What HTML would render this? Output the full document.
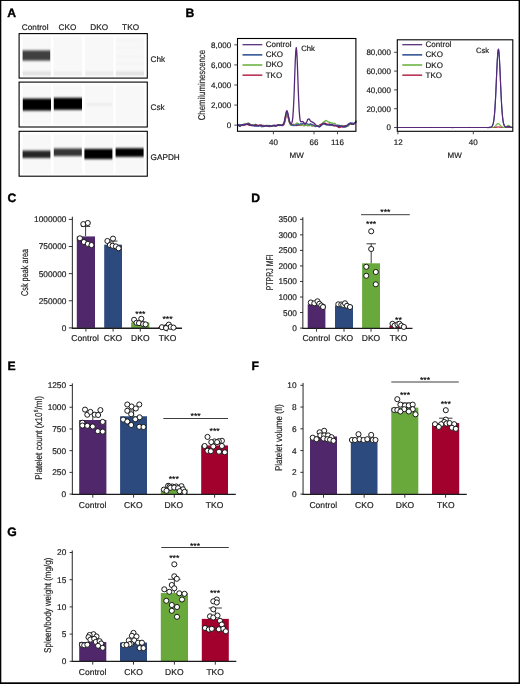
<!DOCTYPE html>
<html lang="en"><head><meta charset="utf-8"><title>Figure</title>
<style>
html,body{margin:0;padding:0;background:#fff;}
body{width:520px;height:684px;overflow:hidden;}
svg{display:block;font-family:"Liberation Sans", sans-serif;text-rendering:geometricPrecision;will-change:transform;}
</style></head><body>
<svg width="520" height="684" viewBox="0 0 520 684">
<defs>
<filter id="bv" x="-10%" y="-40%" width="120%" height="180%"><feGaussianBlur stdDeviation="0.55 1.0"/></filter>
<filter id="bl2" x="-10%" y="-10%" width="120%" height="120%"><feGaussianBlur stdDeviation="0.6 0.8"/></filter>
<filter id="bv2" x="-10%" y="-60%" width="120%" height="220%"><feGaussianBlur stdDeviation="0.5 1.3"/></filter>
</defs>
<rect x="0" y="0" width="520" height="684" fill="#fff"/>

<text x="7.20" y="17.40" font-size="12.2" text-anchor="start" font-weight="bold" fill="#000" stroke="#000" stroke-width="0.35" >A</text>
<text x="185.40" y="17.20" font-size="12.2" text-anchor="start" font-weight="bold" fill="#000" stroke="#000" stroke-width="0.35" >B</text>
<text x="7.60" y="202.10" font-size="12.2" text-anchor="start" font-weight="bold" fill="#000" stroke="#000" stroke-width="0.35" >C</text>
<text x="251.20" y="202.10" font-size="12.2" text-anchor="start" font-weight="bold" fill="#000" stroke="#000" stroke-width="0.35" >D</text>
<text x="7.40" y="369.60" font-size="12.2" text-anchor="start" font-weight="bold" fill="#000" stroke="#000" stroke-width="0.35" >E</text>
<text x="251.40" y="369.60" font-size="12.2" text-anchor="start" font-weight="bold" fill="#000" stroke="#000" stroke-width="0.35" >F</text>
<text x="7.20" y="535.60" font-size="12.2" text-anchor="start" font-weight="bold" fill="#000" stroke="#000" stroke-width="0.35" >G</text>
<rect x="19.10" y="33.60" width="128.20" height="44.50" fill="#ffffff" />
<rect x="22.50" y="36.60" width="28.50" height="39.30" fill="#f8f8f8" filter="url(#bl2)"/>
<rect x="53.50" y="36.60" width="28.50" height="39.30" fill="#f8f8f8" filter="url(#bl2)"/>
<rect x="85.00" y="36.60" width="28.60" height="39.30" fill="#f8f8f8" filter="url(#bl2)"/>
<rect x="115.60" y="36.60" width="28.60" height="39.30" fill="#f8f8f8" filter="url(#bl2)"/>
<rect x="19.10" y="82.10" width="128.20" height="44.90" fill="#ffffff" />
<rect x="22.50" y="85.10" width="28.50" height="39.70" fill="#f8f8f8" filter="url(#bl2)"/>
<rect x="53.50" y="85.10" width="28.50" height="39.70" fill="#f8f8f8" filter="url(#bl2)"/>
<rect x="85.00" y="85.10" width="28.60" height="39.70" fill="#f8f8f8" filter="url(#bl2)"/>
<rect x="115.60" y="85.10" width="28.60" height="39.70" fill="#f8f8f8" filter="url(#bl2)"/>
<rect x="19.10" y="131.30" width="128.20" height="44.90" fill="#ffffff" />
<rect x="22.50" y="134.30" width="28.50" height="39.70" fill="#f8f8f8" filter="url(#bl2)"/>
<rect x="53.50" y="134.30" width="28.50" height="39.70" fill="#f8f8f8" filter="url(#bl2)"/>
<rect x="85.00" y="134.30" width="28.60" height="39.70" fill="#f8f8f8" filter="url(#bl2)"/>
<rect x="115.60" y="134.30" width="28.60" height="39.70" fill="#f8f8f8" filter="url(#bl2)"/>
<rect x="22.80" y="71.60" width="27.90" height="3.80" fill="#dedede" filter="url(#bv2)"/>
<rect x="53.80" y="71.60" width="27.90" height="3.80" fill="#ededed" filter="url(#bv2)"/>
<rect x="85.30" y="71.60" width="28.00" height="3.80" fill="#e9e9e9" filter="url(#bv2)"/>
<rect x="115.90" y="71.60" width="28.00" height="3.80" fill="#e0e0e0" filter="url(#bv2)"/>
<rect x="116.50" y="40.50" width="27.00" height="1.60" fill="#f3f3f3" filter="url(#bv)"/>
<rect x="116.50" y="47.50" width="27.00" height="1.60" fill="#f3f3f3" filter="url(#bv)"/>
<rect x="116.50" y="56.00" width="27.00" height="1.60" fill="#f3f3f3" filter="url(#bv)"/>
<rect x="116.50" y="63.00" width="27.00" height="1.60" fill="#f3f3f3" filter="url(#bv)"/>
<rect x="22.60" y="50.40" width="27.60" height="10.20" fill="#3f3f3f" filter="url(#bv)"/>
<rect x="22.80" y="98.60" width="28.20" height="12.00" fill="#000" filter="url(#bv2)"/>
<rect x="53.80" y="97.80" width="28.20" height="12.00" fill="#000" filter="url(#bv2)"/>
<rect x="87.00" y="103.20" width="25.00" height="2.60" fill="#ebebeb" filter="url(#bv)"/>
<rect x="22.60" y="150.60" width="27.80" height="7.40" fill="#262626" filter="url(#bv2)"/>
<rect x="53.80" y="148.50" width="28.00" height="7.60" fill="#363636" filter="url(#bv2)"/>
<rect x="84.40" y="148.90" width="28.00" height="10.20" fill="#000" filter="url(#bv2)"/>
<rect x="115.60" y="148.20" width="28.00" height="8.60" fill="#050505" filter="url(#bv2)"/>
<rect x="19.1" y="33.6" width="128.20" height="44.50" fill="none" stroke="#000" stroke-width="1.1"/>
<rect x="19.1" y="82.1" width="128.20" height="44.90" fill="none" stroke="#000" stroke-width="1.1"/>
<rect x="19.1" y="131.3" width="128.20" height="44.90" fill="none" stroke="#000" stroke-width="1.1"/>
<text x="35.20" y="30.20" font-size="8.2" text-anchor="middle" font-weight="normal" fill="#1a1a1a" stroke="#1a1a1a" stroke-width="0.18" letter-spacing="0.08">Control</text>
<text x="67.40" y="30.20" font-size="8.2" text-anchor="middle" font-weight="normal" fill="#1a1a1a" stroke="#1a1a1a" stroke-width="0.18" letter-spacing="0.08">CKO</text>
<text x="99.20" y="30.20" font-size="8.2" text-anchor="middle" font-weight="normal" fill="#1a1a1a" stroke="#1a1a1a" stroke-width="0.18" letter-spacing="0.08">DKO</text>
<text x="130.60" y="30.20" font-size="8.2" text-anchor="middle" font-weight="normal" fill="#1a1a1a" stroke="#1a1a1a" stroke-width="0.18" letter-spacing="0.08">TKO</text>
<text x="150.60" y="62.40" font-size="8.2" text-anchor="start" font-weight="normal" fill="#1a1a1a" stroke="#1a1a1a" stroke-width="0.18" >Chk</text>
<text x="150.60" y="110.40" font-size="8.2" text-anchor="start" font-weight="normal" fill="#1a1a1a" stroke="#1a1a1a" stroke-width="0.18" >Csk</text>
<text x="150.60" y="159.60" font-size="8.2" text-anchor="start" font-weight="normal" fill="#1a1a1a" stroke="#1a1a1a" stroke-width="0.18" >GAPDH</text>
<clipPath id="cb1"><rect x="237.5" y="38.5" width="119.59999999999998" height="92.80000000000001"/></clipPath><g clip-path="url(#cb1)">
<path d="M238.10,124.86 L238.59,124.76 L239.09,125.03 L239.58,125.33 L240.07,125.21 L240.56,125.01 L241.06,125.36 L241.55,125.27 L242.04,125.56 L242.54,125.42 L243.03,125.45 L243.52,125.43 L244.01,124.85 L244.51,124.08 L245.00,124.00 L245.49,123.82 L245.99,123.50 L246.48,123.96 L246.97,124.12 L247.46,124.49 L247.96,124.84 L248.45,124.94 L248.94,125.15 L249.44,125.46 L249.93,125.43 L250.42,125.18 L250.92,125.15 L251.41,124.83 L251.90,124.89 L252.39,124.78 L252.89,125.09 L253.38,125.29 L253.87,125.06 L254.37,124.72 L254.86,124.62 L255.35,124.46 L255.84,124.45 L256.34,125.02 L256.83,125.55 L257.32,126.12 L257.82,126.10 L258.31,126.06 L258.80,125.64 L259.29,125.60 L259.79,124.98 L260.28,124.95 L260.77,125.25 L261.27,125.73 L261.76,125.37 L262.25,125.73 L262.74,125.65 L263.24,125.38 L263.73,125.49 L264.22,125.70 L264.72,125.49 L265.21,126.00 L265.70,126.22 L266.19,126.04 L266.69,125.80 L267.18,125.81 L267.67,125.91 L268.17,125.79 L268.66,125.94 L269.15,126.57 L269.64,126.53 L270.14,126.47 L270.63,126.23 L271.12,125.97 L271.62,125.85 L272.11,125.88 L272.60,125.89 L273.09,125.81 L273.59,126.02 L274.08,125.84 L274.57,126.18 L275.07,126.06 L275.56,125.81 L276.05,125.30 L276.55,125.36 L277.04,124.86 L277.53,124.88 L278.02,125.28 L278.52,125.22 L279.01,124.96 L279.50,125.51 L280.00,124.94 L280.49,125.05 L280.98,125.46 L281.47,125.34 L281.97,125.12 L282.46,125.51 L282.95,125.37 L283.45,125.04 L283.94,124.38 L284.43,123.23 L284.92,121.38 L285.42,119.26 L285.91,117.17 L286.40,115.55 L286.90,114.87 L287.39,115.37 L287.88,116.35 L288.37,118.37 L288.87,120.84 L289.36,122.18 L289.85,123.22 L290.35,124.44 L290.84,124.89 L291.33,124.70 L291.82,124.78 L292.32,125.26 L292.81,124.78 L293.30,124.29 L293.80,124.39 L294.29,124.76 L294.78,124.82 L295.27,125.47 L295.77,125.41 L296.26,125.67 L296.75,125.47 L297.25,125.36 L297.74,124.79 L298.23,125.04 L298.73,124.98 L299.22,125.32 L299.71,124.92 L300.20,125.36 L300.70,125.49 L301.19,125.12 L301.68,124.43 L302.18,124.28 L302.67,123.92 L303.16,123.26 L303.65,123.40 L304.15,123.98 L304.64,124.30 L305.13,124.33 L305.63,125.14 L306.12,125.38 L306.61,125.35 L307.10,125.32 L307.60,125.70 L308.09,125.60 L308.58,125.17 L309.08,124.78 L309.57,124.75 L310.06,124.37 L310.55,124.22 L311.05,124.77 L311.54,125.45 L312.03,125.93 L312.53,125.80 L313.02,125.75 L313.51,125.22 L314.00,125.31 L314.50,124.96 L314.99,125.38 L315.48,125.49 L315.98,126.09 L316.47,125.52 L316.96,126.04 L317.45,126.08 L317.95,126.12 L318.44,125.69 L318.93,125.79 L319.43,125.19 L319.92,124.80 L320.41,124.41 L320.91,124.50 L321.40,124.21 L321.89,123.76 L322.38,123.42 L322.88,123.53 L323.37,123.04 L323.86,122.81 L324.36,123.01 L324.85,123.23 L325.34,123.35 L325.83,123.64 L326.33,123.99 L326.82,124.52 L327.31,124.68 L327.81,124.39 L328.30,124.31 L328.79,124.33 L329.28,124.19 L329.78,124.19 L330.27,124.53 L330.76,124.88 L331.26,124.83 L331.75,125.07 L332.24,125.09 L332.73,125.52 L333.23,125.45 L333.72,125.76 L334.21,125.72 L334.71,125.84 L335.20,125.61 L335.69,125.71 L336.18,125.53 L336.68,125.65 L337.17,126.29 L337.66,126.59 L338.16,126.70 L338.65,127.35 L339.14,127.55 L339.63,127.02 L340.13,126.86 L340.62,127.09 L341.11,126.63 L341.61,126.52 L342.10,126.68 L342.59,126.96 L343.08,126.91 L343.58,126.90 L344.07,126.39 L344.56,126.14 L345.06,125.90 L345.55,125.67 L346.04,125.87 L346.54,126.26 L347.03,126.33 L347.52,125.76 L348.01,125.27 L348.51,124.66 L349.00,123.72 L349.49,123.53 L349.99,123.70 L350.48,123.76 L350.97,123.94 L351.46,124.45 L351.96,124.43 L352.45,124.24 L352.94,124.34 L353.44,124.36 L353.93,123.82 L354.42,123.11 L354.91,122.72 L355.41,122.34 L355.90,121.85" fill="none" stroke="#ad0c35" stroke-width="1.3" stroke-linejoin="round" stroke-linecap="round"/>
<path d="M238.10,125.27 L238.59,125.77 L239.09,125.46 L239.58,125.27 L240.07,125.34 L240.56,125.31 L241.06,124.81 L241.55,125.00 L242.04,124.84 L242.54,124.80 L243.03,124.49 L243.52,124.45 L244.01,124.12 L244.51,124.31 L245.00,124.15 L245.49,123.97 L245.99,124.10 L246.48,124.19 L246.97,123.55 L247.46,123.67 L247.96,123.52 L248.45,123.39 L248.94,123.16 L249.44,123.58 L249.93,123.76 L250.42,124.17 L250.92,124.65 L251.41,124.77 L251.90,125.00 L252.39,125.00 L252.89,124.83 L253.38,124.62 L253.87,125.13 L254.37,124.85 L254.86,124.93 L255.35,125.42 L255.84,125.80 L256.34,125.59 L256.83,126.08 L257.32,125.95 L257.82,125.78 L258.31,125.52 L258.80,125.62 L259.29,125.26 L259.79,125.29 L260.28,125.43 L260.77,125.54 L261.27,125.45 L261.76,125.69 L262.25,125.90 L262.74,125.77 L263.24,125.75 L263.73,125.70 L264.22,125.57 L264.72,125.88 L265.21,125.62 L265.70,125.67 L266.19,125.81 L266.69,125.89 L267.18,125.38 L267.67,125.40 L268.17,125.29 L268.66,125.30 L269.15,125.47 L269.64,125.48 L270.14,125.93 L270.63,125.89 L271.12,125.91 L271.62,125.75 L272.11,126.05 L272.60,126.01 L273.09,126.30 L273.59,126.16 L274.08,125.86 L274.57,125.67 L275.07,125.64 L275.56,125.22 L276.05,125.49 L276.55,125.70 L277.04,125.57 L277.53,125.12 L278.02,125.24 L278.52,124.75 L279.01,124.68 L279.50,124.84 L280.00,125.03 L280.49,124.70 L280.98,124.74 L281.47,124.73 L281.97,124.55 L282.46,124.38 L282.95,124.50 L283.45,123.95 L283.94,122.84 L284.43,121.52 L284.92,119.46 L285.42,117.47 L285.91,115.53 L286.40,114.08 L286.90,113.66 L287.39,114.68 L287.88,115.81 L288.37,117.95 L288.87,120.36 L289.36,122.42 L289.85,123.33 L290.35,124.43 L290.84,125.13 L291.33,125.41 L291.82,125.37 L292.32,125.43 L292.81,125.46 L293.30,125.25 L293.80,125.14 L294.29,124.80 L294.78,124.93 L295.27,124.57 L295.77,124.04 L296.26,123.35 L296.75,123.03 L297.25,123.13 L297.74,123.22 L298.23,123.34 L298.73,124.12 L299.22,124.77 L299.71,124.76 L300.20,124.97 L300.70,125.21 L301.19,124.92 L301.68,124.85 L302.18,125.05 L302.67,125.17 L303.16,125.48 L303.65,125.88 L304.15,125.76 L304.64,125.82 L305.13,125.42 L305.63,125.20 L306.12,125.20 L306.61,125.30 L307.10,125.03 L307.60,125.54 L308.09,125.64 L308.58,125.65 L309.08,125.49 L309.57,125.85 L310.06,125.50 L310.55,125.21 L311.05,124.72 L311.54,125.05 L312.03,124.75 L312.53,125.08 L313.02,125.50 L313.51,125.55 L314.00,125.27 L314.50,125.68 L314.99,125.65 L315.48,125.60 L315.98,126.15 L316.47,126.30 L316.96,125.88 L317.45,125.87 L317.95,126.07 L318.44,125.64 L318.93,125.73 L319.43,125.98 L319.92,125.91 L320.41,125.73 L320.91,125.37 L321.40,124.96 L321.89,124.21 L322.38,123.43 L322.88,122.46 L323.37,122.38 L323.86,121.98 L324.36,121.44 L324.85,121.09 L325.34,121.10 L325.83,120.56 L326.33,120.51 L326.82,120.87 L327.31,121.35 L327.81,121.51 L328.30,122.03 L328.79,122.19 L329.28,122.10 L329.78,122.44 L330.27,122.71 L330.76,122.66 L331.26,122.84 L331.75,123.26 L332.24,122.96 L332.73,123.32 L333.23,123.29 L333.72,123.29 L334.21,123.23 L334.71,123.37 L335.20,123.56 L335.69,124.37 L336.18,124.97 L336.68,125.44 L337.17,125.63 L337.66,125.37 L338.16,125.35 L338.65,125.25 L339.14,125.24 L339.63,125.71 L340.13,125.78 L340.62,125.54 L341.11,125.55 L341.61,125.52 L342.10,125.29 L342.59,125.51 L343.08,125.91 L343.58,126.18 L344.07,126.56 L344.56,126.98 L345.06,126.76 L345.55,126.70 L346.04,126.75 L346.54,126.57 L347.03,126.36 L347.52,126.42 L348.01,126.11 L348.51,125.70 L349.00,125.25 L349.49,124.72 L349.99,124.47 L350.48,123.95 L350.97,123.75 L351.46,123.69 L351.96,123.48 L352.45,123.23 L352.94,123.57 L353.44,123.68 L353.93,123.16 L354.42,122.83 L354.91,122.46 L355.41,121.62 L355.90,120.55" fill="none" stroke="#6db444" stroke-width="1.3" stroke-linejoin="round" stroke-linecap="round"/>
<path d="M238.10,124.87 L238.59,124.68 L239.09,124.50 L239.58,124.90 L240.07,124.66 L240.56,124.69 L241.06,124.92 L241.55,124.89 L242.04,124.67 L242.54,124.78 L243.03,124.54 L243.52,124.40 L244.01,124.71 L244.51,124.70 L245.00,124.48 L245.49,124.80 L245.99,124.57 L246.48,124.08 L246.97,123.86 L247.46,123.58 L247.96,123.09 L248.45,123.28 L248.94,123.54 L249.44,123.99 L249.93,124.72 L250.42,124.91 L250.92,125.24 L251.41,125.65 L251.90,125.24 L252.39,124.87 L252.89,125.43 L253.38,125.44 L253.87,125.44 L254.37,125.85 L254.86,126.33 L255.35,126.10 L255.84,126.13 L256.34,126.06 L256.83,126.13 L257.32,126.09 L257.82,126.42 L258.31,126.09 L258.80,125.89 L259.29,125.68 L259.79,125.70 L260.28,125.65 L260.77,126.13 L261.27,126.42 L261.76,126.75 L262.25,126.67 L262.74,126.65 L263.24,126.62 L263.73,126.42 L264.22,126.18 L264.72,126.07 L265.21,125.97 L265.70,125.76 L266.19,125.68 L266.69,125.77 L267.18,126.02 L267.67,125.94 L268.17,126.03 L268.66,126.02 L269.15,126.13 L269.64,125.62 L270.14,125.89 L270.63,125.77 L271.12,125.96 L271.62,125.81 L272.11,125.78 L272.60,125.34 L273.09,125.55 L273.59,125.49 L274.08,125.29 L274.57,125.79 L275.07,126.15 L275.56,125.86 L276.05,125.69 L276.55,125.76 L277.04,125.50 L277.53,125.23 L278.02,125.42 L278.52,125.31 L279.01,124.98 L279.50,124.93 L280.00,125.22 L280.49,125.12 L280.98,125.14 L281.47,125.51 L281.97,125.68 L282.46,125.44 L282.95,124.95 L283.45,124.50 L283.94,123.54 L284.43,121.71 L284.92,119.31 L285.42,116.77 L285.91,114.34 L286.40,112.56 L286.90,111.81 L287.39,112.32 L287.88,114.05 L288.37,116.38 L288.87,118.66 L289.36,120.89 L289.85,122.45 L290.35,123.59 L290.84,124.17 L291.33,124.67 L291.82,125.06 L292.32,125.47 L292.81,125.52 L293.30,125.62 L293.80,125.64 L294.29,125.58 L294.78,125.15 L295.27,125.47 L295.77,125.25 L296.26,124.89 L296.75,124.64 L297.25,124.60 L297.74,124.19 L298.23,124.71 L298.73,124.52 L299.22,124.48 L299.71,124.35 L300.20,124.03 L300.70,123.67 L301.19,123.93 L301.68,123.89 L302.18,123.74 L302.67,123.62 L303.16,123.54 L303.65,123.60 L304.15,123.58 L304.64,123.83 L305.13,124.15 L305.63,124.02 L306.12,123.71 L306.61,123.61 L307.10,123.65 L307.60,124.07 L308.09,124.50 L308.58,124.40 L309.08,124.28 L309.57,124.39 L310.06,124.15 L310.55,123.83 L311.05,124.13 L311.54,124.27 L312.03,124.34 L312.53,124.51 L313.02,124.93 L313.51,125.29 L314.00,125.79 L314.50,126.26 L314.99,126.36 L315.48,126.55 L315.98,126.37 L316.47,126.28 L316.96,126.19 L317.45,126.15 L317.95,126.13 L318.44,126.60 L318.93,126.80 L319.43,126.73 L319.92,126.68 L320.41,126.41 L320.91,125.93 L321.40,125.14 L321.89,125.03 L322.38,124.69 L322.88,124.37 L323.37,124.21 L323.86,124.17 L324.36,124.01 L324.85,124.30 L325.34,124.54 L325.83,124.25 L326.33,124.65 L326.82,124.89 L327.31,124.48 L327.81,124.34 L328.30,124.48 L328.79,124.59 L329.28,124.25 L329.78,124.88 L330.27,125.18 L330.76,125.31 L331.26,125.22 L331.75,125.26 L332.24,125.06 L332.73,124.69 L333.23,125.15 L333.72,125.12 L334.21,125.52 L334.71,125.67 L335.20,125.71 L335.69,125.55 L336.18,125.49 L336.68,125.50 L337.17,125.24 L337.66,125.30 L338.16,125.26 L338.65,125.70 L339.14,125.55 L339.63,125.50 L340.13,125.65 L340.62,125.84 L341.11,125.81 L341.61,126.22 L342.10,126.38 L342.59,126.82 L343.08,126.97 L343.58,127.18 L344.07,127.10 L344.56,127.24 L345.06,126.89 L345.55,126.69 L346.04,126.15 L346.54,125.42 L347.03,125.21 L347.52,125.04 L348.01,124.49 L348.51,123.93 L349.00,123.63 L349.49,123.21 L349.99,123.15 L350.48,122.90 L350.97,122.87 L351.46,122.96 L351.96,123.13 L352.45,123.11 L352.94,123.43 L353.44,123.62 L353.93,123.47 L354.42,123.19 L354.91,122.59 L355.41,122.09 L355.90,121.55" fill="none" stroke="#3f5f9c" stroke-width="1.3" stroke-linejoin="round" stroke-linecap="round"/>
<path d="M238.10,125.31 L238.59,125.53 L239.09,125.77 L239.58,126.25 L240.07,126.26 L240.56,126.10 L241.06,125.55 L241.55,125.23 L242.04,125.01 L242.54,124.85 L243.03,124.72 L243.52,125.03 L244.01,125.28 L244.51,124.88 L245.00,124.57 L245.49,124.66 L245.99,124.56 L246.48,124.33 L246.97,124.11 L247.46,124.34 L247.96,124.10 L248.45,123.75 L248.94,124.01 L249.44,124.59 L249.93,124.63 L250.42,124.68 L250.92,125.28 L251.41,125.28 L251.90,125.43 L252.39,125.73 L252.89,125.90 L253.38,125.57 L253.87,125.49 L254.37,125.63 L254.86,125.28 L255.35,125.26 L255.84,125.38 L256.34,125.46 L256.83,125.03 L257.32,125.10 L257.82,125.21 L258.31,125.29 L258.80,125.37 L259.29,125.60 L259.79,125.53 L260.28,125.50 L260.77,125.63 L261.27,125.32 L261.76,125.12 L262.25,125.56 L262.74,125.87 L263.24,125.95 L263.73,126.42 L264.22,126.47 L264.72,126.14 L265.21,125.93 L265.70,125.50 L266.19,125.31 L266.69,125.61 L267.18,125.91 L267.67,126.02 L268.17,126.10 L268.66,125.95 L269.15,126.01 L269.64,125.82 L270.14,125.97 L270.63,126.07 L271.12,126.32 L271.62,126.24 L272.11,126.10 L272.60,125.63 L273.09,125.61 L273.59,125.49 L274.08,125.21 L274.57,125.40 L275.07,125.84 L275.56,126.01 L276.05,125.77 L276.55,125.76 L277.04,125.78 L277.53,125.29 L278.02,124.96 L278.52,125.18 L279.01,124.97 L279.50,124.92 L280.00,125.34 L280.49,125.50 L280.98,125.15 L281.47,125.31 L281.97,125.06 L282.46,124.63 L282.95,124.37 L283.45,123.97 L283.94,122.88 L284.43,121.09 L284.92,118.50 L285.42,115.97 L285.91,113.48 L286.40,111.35 L286.90,110.61 L287.39,111.75 L287.88,113.34 L288.37,115.62 L288.87,118.28 L289.36,120.94 L289.85,122.24 L290.35,123.20 L290.84,123.95 L291.33,124.11 L291.82,122.87 L292.32,121.23 L292.81,117.37 L293.30,110.67 L293.80,101.20 L294.29,88.80 L294.78,74.34 L295.27,61.12 L295.77,51.17 L296.26,47.61 L296.75,51.39 L297.25,61.24 L297.74,74.64 L298.23,89.28 L298.73,101.74 L299.22,110.99 L299.71,116.93 L300.20,120.55 L300.70,121.69 L301.19,121.73 L301.68,121.56 L302.18,121.55 L302.67,121.50 L303.16,121.84 L303.65,122.45 L304.15,122.92 L304.64,123.42 L305.13,123.52 L305.63,123.33 L306.12,122.64 L306.61,122.05 L307.10,121.00 L307.60,119.73 L308.09,119.15 L308.58,119.05 L309.08,118.95 L309.57,119.53 L310.06,120.41 L310.55,121.02 L311.05,121.45 L311.54,121.70 L312.03,121.92 L312.53,122.26 L313.02,122.32 L313.51,122.67 L314.00,123.14 L314.50,123.45 L314.99,123.88 L315.48,124.57 L315.98,125.19 L316.47,125.56 L316.96,125.77 L317.45,126.13 L317.95,126.12 L318.44,126.25 L318.93,126.54 L319.43,126.82 L319.92,126.30 L320.41,126.00 L320.91,125.24 L321.40,124.84 L321.89,124.33 L322.38,123.83 L322.88,123.58 L323.37,123.45 L323.86,123.30 L324.36,123.36 L324.85,123.84 L325.34,124.29 L325.83,124.67 L326.33,124.53 L326.82,124.49 L327.31,124.64 L327.81,124.84 L328.30,124.95 L328.79,125.00 L329.28,125.19 L329.78,124.90 L330.27,124.66 L330.76,124.45 L331.26,124.70 L331.75,124.77 L332.24,124.98 L332.73,124.93 L333.23,125.29 L333.72,125.49 L334.21,125.27 L334.71,125.29 L335.20,125.43 L335.69,125.54 L336.18,125.68 L336.68,126.09 L337.17,126.19 L337.66,126.61 L338.16,126.64 L338.65,126.22 L339.14,126.18 L339.63,126.51 L340.13,126.16 L340.62,126.22 L341.11,126.72 L341.61,126.67 L342.10,126.35 L342.59,126.65 L343.08,126.44 L343.58,126.05 L344.07,126.21 L344.56,126.27 L345.06,126.40 L345.55,126.39 L346.04,126.61 L346.54,126.30 L347.03,125.97 L347.52,125.55 L348.01,125.23 L348.51,124.54 L349.00,124.46 L349.49,124.09 L349.99,123.71 L350.48,123.33 L350.97,123.69 L351.46,123.55 L351.96,123.99 L352.45,124.25 L352.94,124.41 L353.44,124.21 L353.93,124.12 L354.42,123.37 L354.91,122.97 L355.41,122.79 L355.90,121.95" fill="none" stroke="#562878" stroke-width="1.3" stroke-linejoin="round" stroke-linecap="round"/>
</g>
<rect x="237.5" y="38.5" width="118.40" height="92.80" fill="none" stroke="#000" stroke-width="1.1"/>
<line x1="234.30" y1="44.83" x2="237.50" y2="44.83" stroke="#333" stroke-width="0.9" />
<text x="231.10" y="47.68" font-size="8" text-anchor="end" font-weight="normal" fill="#1a1a1a" stroke="#1a1a1a" stroke-width="0.18" >8,000</text>
<line x1="234.30" y1="64.91" x2="237.50" y2="64.91" stroke="#333" stroke-width="0.9" />
<text x="231.10" y="67.76" font-size="8" text-anchor="end" font-weight="normal" fill="#1a1a1a" stroke="#1a1a1a" stroke-width="0.18" >6,000</text>
<line x1="234.30" y1="84.99" x2="237.50" y2="84.99" stroke="#333" stroke-width="0.9" />
<text x="231.10" y="87.84" font-size="8" text-anchor="end" font-weight="normal" fill="#1a1a1a" stroke="#1a1a1a" stroke-width="0.18" >4,000</text>
<line x1="234.30" y1="105.07" x2="237.50" y2="105.07" stroke="#333" stroke-width="0.9" />
<text x="231.10" y="107.92" font-size="8" text-anchor="end" font-weight="normal" fill="#1a1a1a" stroke="#1a1a1a" stroke-width="0.18" >2,000</text>
<line x1="234.30" y1="125.15" x2="237.50" y2="125.15" stroke="#333" stroke-width="0.9" />
<text x="231.10" y="128.00" font-size="8" text-anchor="end" font-weight="normal" fill="#1a1a1a" stroke="#1a1a1a" stroke-width="0.18" >0</text>
<line x1="273.40" y1="131.30" x2="273.40" y2="134.30" stroke="#333" stroke-width="0.9" />
<text x="273.40" y="145.10" font-size="8" text-anchor="middle" font-weight="normal" fill="#1a1a1a" stroke="#1a1a1a" stroke-width="0.18" >40</text>
<line x1="314.00" y1="131.30" x2="314.00" y2="134.30" stroke="#333" stroke-width="0.9" />
<text x="314.00" y="145.10" font-size="8" text-anchor="middle" font-weight="normal" fill="#1a1a1a" stroke="#1a1a1a" stroke-width="0.18" >66</text>
<line x1="337.50" y1="131.30" x2="337.50" y2="134.30" stroke="#333" stroke-width="0.9" />
<text x="337.50" y="145.10" font-size="8" text-anchor="middle" font-weight="normal" fill="#1a1a1a" stroke="#1a1a1a" stroke-width="0.18" >116</text>
<text x="296.60" y="158.00" font-size="8" text-anchor="middle" font-weight="normal" fill="#1a1a1a" stroke="#1a1a1a" stroke-width="0.18" >MW</text>
<text transform="translate(205.20,85.10) rotate(-90)" x="0" y="0" font-size="9.8" text-anchor="middle" fill="#1a1a1a" stroke="#1a1a1a" stroke-width="0.15" textLength="70.4" lengthAdjust="spacingAndGlyphs" style="font-variant-ligatures:none">Chemiluminescence</text>
<line x1="242.50" y1="44.70" x2="262.30" y2="44.70" stroke="#562878" stroke-width="1.25" />
<text x="265.70" y="47.05" font-size="8.0" text-anchor="start" font-weight="normal" fill="#1a1a1a" stroke="#1a1a1a" stroke-width="0.18" >Control</text>
<line x1="242.50" y1="54.85" x2="262.30" y2="54.85" stroke="#3f5f9c" stroke-width="1.7" />
<text x="265.70" y="57.20" font-size="8.0" text-anchor="start" font-weight="normal" fill="#1a1a1a" stroke="#1a1a1a" stroke-width="0.18" >CKO</text>
<line x1="242.50" y1="65.00" x2="262.30" y2="65.00" stroke="#6db444" stroke-width="1.6" />
<text x="265.70" y="67.35" font-size="8.0" text-anchor="start" font-weight="normal" fill="#1a1a1a" stroke="#1a1a1a" stroke-width="0.18" >DKO</text>
<line x1="242.50" y1="75.15" x2="262.30" y2="75.15" stroke="#ad0c35" stroke-width="1.35" />
<text x="265.70" y="77.50" font-size="8.0" text-anchor="start" font-weight="normal" fill="#1a1a1a" stroke="#1a1a1a" stroke-width="0.18" >TKO</text>
<text x="301.30" y="51.20" font-size="7.7" text-anchor="start" font-weight="normal" fill="#1a1a1a" stroke="#1a1a1a" stroke-width="0.18" >Chk</text>
<clipPath id="cb2"><rect x="397.3" y="39.8" width="115.49999999999994" height="91.50000000000001"/></clipPath><g clip-path="url(#cb2)">
<path d="M397.90,127.47 L398.34,127.47 L398.78,127.46 L399.22,127.48 L399.67,127.49 L400.11,127.50 L400.55,127.50 L400.99,127.49 L401.43,127.50 L401.87,127.52 L402.31,127.52 L402.75,127.52 L403.20,127.51 L403.64,127.52 L404.08,127.50 L404.52,127.51 L404.96,127.51 L405.40,127.51 L405.84,127.51 L406.28,127.50 L406.73,127.52 L407.17,127.53 L407.61,127.51 L408.05,127.51 L408.49,127.51 L408.93,127.50 L409.37,127.49 L409.82,127.48 L410.26,127.49 L410.70,127.48 L411.14,127.47 L411.58,127.47 L412.02,127.47 L412.46,127.47 L412.90,127.48 L413.35,127.49 L413.79,127.50 L414.23,127.50 L414.67,127.51 L415.11,127.51 L415.55,127.53 L415.99,127.54 L416.44,127.54 L416.88,127.54 L417.32,127.52 L417.76,127.52 L418.20,127.51 L418.64,127.51 L419.08,127.51 L419.52,127.51 L419.97,127.50 L420.41,127.51 L420.85,127.50 L421.29,127.50 L421.73,127.51 L422.17,127.50 L422.61,127.50 L423.05,127.50 L423.50,127.50 L423.94,127.52 L424.38,127.52 L424.82,127.51 L425.26,127.53 L425.70,127.51 L426.14,127.51 L426.59,127.50 L427.03,127.50 L427.47,127.50 L427.91,127.49 L428.35,127.47 L428.79,127.49 L429.23,127.48 L429.67,127.48 L430.12,127.48 L430.56,127.50 L431.00,127.49 L431.44,127.49 L431.88,127.50 L432.32,127.50 L432.76,127.48 L433.21,127.49 L433.65,127.49 L434.09,127.49 L434.53,127.49 L434.97,127.50 L435.41,127.50 L435.85,127.51 L436.29,127.51 L436.74,127.52 L437.18,127.51 L437.62,127.52 L438.06,127.53 L438.50,127.52 L438.94,127.51 L439.38,127.51 L439.82,127.51 L440.27,127.50 L440.71,127.49 L441.15,127.50 L441.59,127.50 L442.03,127.50 L442.47,127.50 L442.91,127.51 L443.36,127.51 L443.80,127.50 L444.24,127.51 L444.68,127.51 L445.12,127.50 L445.56,127.49 L446.00,127.48 L446.44,127.50 L446.89,127.49 L447.33,127.49 L447.77,127.49 L448.21,127.49 L448.65,127.50 L449.09,127.50 L449.53,127.49 L449.97,127.49 L450.42,127.48 L450.86,127.48 L451.30,127.47 L451.74,127.48 L452.18,127.48 L452.62,127.48 L453.06,127.49 L453.51,127.50 L453.95,127.50 L454.39,127.49 L454.83,127.49 L455.27,127.49 L455.71,127.50 L456.15,127.50 L456.59,127.50 L457.04,127.49 L457.48,127.48 L457.92,127.49 L458.36,127.50 L458.80,127.49 L459.24,127.49 L459.68,127.48 L460.13,127.47 L460.57,127.47 L461.01,127.47 L461.45,127.48 L461.89,127.48 L462.33,127.48 L462.77,127.48 L463.21,127.49 L463.66,127.48 L464.10,127.49 L464.54,127.48 L464.98,127.50 L465.42,127.49 L465.86,127.50 L466.30,127.50 L466.74,127.50 L467.19,127.49 L467.63,127.50 L468.07,127.49 L468.51,127.50 L468.95,127.49 L469.39,127.48 L469.83,127.47 L470.28,127.48 L470.72,127.47 L471.16,127.47 L471.60,127.47 L472.04,127.46 L472.48,127.45 L472.92,127.46 L473.36,127.46 L473.81,127.47 L474.25,127.46 L474.69,127.46 L475.13,127.47 L475.57,127.47 L476.01,127.47 L476.45,127.48 L476.89,127.48 L477.34,127.48 L477.78,127.47 L478.22,127.48 L478.66,127.49 L479.10,127.48 L479.54,127.48 L479.98,127.48 L480.43,127.48 L480.87,127.49 L481.31,127.50 L481.75,127.50 L482.19,127.50 L482.63,127.50 L483.07,127.50 L483.51,127.51 L483.96,127.52 L484.40,127.52 L484.84,127.52 L485.28,127.52 L485.72,127.53 L486.16,127.53 L486.60,127.53 L487.05,127.54 L487.49,127.56 L487.93,127.55 L488.37,127.55 L488.81,127.54 L489.25,127.53 L489.69,127.53 L490.13,127.52 L490.58,127.52 L491.02,127.51 L491.46,127.51 L491.90,127.50 L492.34,127.50 L492.78,127.49 L493.22,127.47 L493.66,127.46 L494.11,127.43 L494.55,127.39 L494.99,127.35 L495.43,127.30 L495.87,127.24 L496.31,127.17 L496.75,127.12 L497.20,127.07 L497.64,127.03 L498.08,127.02 L498.52,127.01 L498.96,127.04 L499.40,127.07 L499.84,127.12 L500.28,127.17 L500.73,127.22 L501.17,127.27 L501.61,127.33 L502.05,127.37 L502.49,127.41 L502.93,127.43 L503.37,127.45 L503.82,127.46 L504.26,127.48 L504.70,127.48 L505.14,127.47 L505.58,127.44 L506.02,127.42 L506.46,127.37 L506.90,127.32 L507.35,127.27 L507.79,127.24 L508.23,127.21 L508.67,127.20 L509.11,127.23 L509.55,127.27 L509.99,127.31 L510.43,127.35 L510.88,127.39 L511.32,127.43 L511.76,127.44 L512.20,127.46" fill="none" stroke="#ad0c35" stroke-width="1.15" stroke-linejoin="round" stroke-linecap="round"/>
<path d="M397.90,127.50 L398.34,127.50 L398.78,127.51 L399.22,127.50 L399.67,127.49 L400.11,127.48 L400.55,127.48 L400.99,127.48 L401.43,127.49 L401.87,127.49 L402.31,127.49 L402.75,127.49 L403.20,127.49 L403.64,127.49 L404.08,127.48 L404.52,127.48 L404.96,127.50 L405.40,127.48 L405.84,127.48 L406.28,127.49 L406.73,127.49 L407.17,127.51 L407.61,127.51 L408.05,127.52 L408.49,127.50 L408.93,127.49 L409.37,127.51 L409.82,127.51 L410.26,127.51 L410.70,127.49 L411.14,127.47 L411.58,127.48 L412.02,127.47 L412.46,127.47 L412.90,127.47 L413.35,127.45 L413.79,127.47 L414.23,127.47 L414.67,127.47 L415.11,127.49 L415.55,127.49 L415.99,127.50 L416.44,127.50 L416.88,127.50 L417.32,127.53 L417.76,127.51 L418.20,127.51 L418.64,127.52 L419.08,127.52 L419.52,127.53 L419.97,127.52 L420.41,127.52 L420.85,127.52 L421.29,127.52 L421.73,127.52 L422.17,127.53 L422.61,127.52 L423.05,127.51 L423.50,127.50 L423.94,127.50 L424.38,127.51 L424.82,127.52 L425.26,127.52 L425.70,127.51 L426.14,127.51 L426.59,127.51 L427.03,127.51 L427.47,127.52 L427.91,127.50 L428.35,127.50 L428.79,127.49 L429.23,127.47 L429.67,127.48 L430.12,127.46 L430.56,127.46 L431.00,127.45 L431.44,127.44 L431.88,127.46 L432.32,127.45 L432.76,127.46 L433.21,127.47 L433.65,127.48 L434.09,127.49 L434.53,127.49 L434.97,127.50 L435.41,127.50 L435.85,127.51 L436.29,127.52 L436.74,127.54 L437.18,127.53 L437.62,127.52 L438.06,127.54 L438.50,127.53 L438.94,127.52 L439.38,127.53 L439.82,127.53 L440.27,127.51 L440.71,127.49 L441.15,127.50 L441.59,127.50 L442.03,127.49 L442.47,127.50 L442.91,127.52 L443.36,127.51 L443.80,127.50 L444.24,127.52 L444.68,127.52 L445.12,127.50 L445.56,127.49 L446.00,127.49 L446.44,127.48 L446.89,127.48 L447.33,127.48 L447.77,127.49 L448.21,127.47 L448.65,127.47 L449.09,127.48 L449.53,127.51 L449.97,127.51 L450.42,127.52 L450.86,127.53 L451.30,127.52 L451.74,127.53 L452.18,127.53 L452.62,127.54 L453.06,127.53 L453.51,127.51 L453.95,127.51 L454.39,127.51 L454.83,127.49 L455.27,127.49 L455.71,127.48 L456.15,127.48 L456.59,127.47 L457.04,127.48 L457.48,127.49 L457.92,127.49 L458.36,127.49 L458.80,127.51 L459.24,127.51 L459.68,127.50 L460.13,127.52 L460.57,127.52 L461.01,127.53 L461.45,127.54 L461.89,127.53 L462.33,127.53 L462.77,127.51 L463.21,127.51 L463.66,127.50 L464.10,127.51 L464.54,127.50 L464.98,127.50 L465.42,127.49 L465.86,127.48 L466.30,127.47 L466.74,127.47 L467.19,127.47 L467.63,127.47 L468.07,127.46 L468.51,127.48 L468.95,127.45 L469.39,127.45 L469.83,127.46 L470.28,127.46 L470.72,127.47 L471.16,127.48 L471.60,127.48 L472.04,127.49 L472.48,127.48 L472.92,127.48 L473.36,127.49 L473.81,127.48 L474.25,127.50 L474.69,127.49 L475.13,127.49 L475.57,127.48 L476.01,127.47 L476.45,127.47 L476.89,127.49 L477.34,127.50 L477.78,127.50 L478.22,127.49 L478.66,127.49 L479.10,127.50 L479.54,127.52 L479.98,127.52 L480.43,127.54 L480.87,127.52 L481.31,127.50 L481.75,127.50 L482.19,127.50 L482.63,127.50 L483.07,127.50 L483.51,127.49 L483.96,127.49 L484.40,127.48 L484.84,127.50 L485.28,127.50 L485.72,127.52 L486.16,127.54 L486.60,127.54 L487.05,127.54 L487.49,127.54 L487.93,127.54 L488.37,127.55 L488.81,127.56 L489.25,127.55 L489.69,127.55 L490.13,127.54 L490.58,127.55 L491.02,127.53 L491.46,127.51 L491.90,127.49 L492.34,127.46 L492.78,127.40 L493.22,127.32 L493.66,127.18 L494.11,126.97 L494.55,126.68 L494.99,126.33 L495.43,125.90 L495.87,125.40 L496.31,124.87 L496.75,124.37 L497.20,123.93 L497.64,123.65 L498.08,123.55 L498.52,123.63 L498.96,123.89 L499.40,124.28 L499.84,124.77 L500.28,125.29 L500.73,125.78 L501.17,126.26 L501.61,126.62 L502.05,126.92 L502.49,127.14 L502.93,127.29 L503.37,127.38 L503.82,127.43 L504.26,127.43 L504.70,127.42 L505.14,127.32 L505.58,127.18 L506.02,126.93 L506.46,126.59 L506.90,126.21 L507.35,125.84 L507.79,125.52 L508.23,125.37 L508.67,125.38 L509.11,125.57 L509.55,125.87 L509.99,126.26 L510.43,126.63 L510.88,126.94 L511.32,127.18 L511.76,127.33 L512.20,127.42" fill="none" stroke="#6db444" stroke-width="1.15" stroke-linejoin="round" stroke-linecap="round"/>
<path d="M397.90,127.53 L398.34,127.53 L398.78,127.53 L399.22,127.54 L399.67,127.53 L400.11,127.53 L400.55,127.53 L400.99,127.53 L401.43,127.53 L401.87,127.51 L402.31,127.51 L402.75,127.50 L403.20,127.49 L403.64,127.50 L404.08,127.50 L404.52,127.49 L404.96,127.49 L405.40,127.50 L405.84,127.51 L406.28,127.51 L406.73,127.51 L407.17,127.52 L407.61,127.51 L408.05,127.52 L408.49,127.51 L408.93,127.51 L409.37,127.52 L409.82,127.52 L410.26,127.52 L410.70,127.52 L411.14,127.52 L411.58,127.52 L412.02,127.52 L412.46,127.52 L412.90,127.51 L413.35,127.50 L413.79,127.50 L414.23,127.50 L414.67,127.50 L415.11,127.49 L415.55,127.49 L415.99,127.49 L416.44,127.48 L416.88,127.49 L417.32,127.50 L417.76,127.49 L418.20,127.49 L418.64,127.49 L419.08,127.51 L419.52,127.51 L419.97,127.50 L420.41,127.51 L420.85,127.50 L421.29,127.50 L421.73,127.50 L422.17,127.49 L422.61,127.49 L423.05,127.48 L423.50,127.48 L423.94,127.48 L424.38,127.48 L424.82,127.48 L425.26,127.49 L425.70,127.49 L426.14,127.49 L426.59,127.48 L427.03,127.47 L427.47,127.48 L427.91,127.49 L428.35,127.49 L428.79,127.50 L429.23,127.49 L429.67,127.50 L430.12,127.51 L430.56,127.53 L431.00,127.53 L431.44,127.53 L431.88,127.53 L432.32,127.54 L432.76,127.52 L433.21,127.53 L433.65,127.52 L434.09,127.52 L434.53,127.50 L434.97,127.50 L435.41,127.49 L435.85,127.49 L436.29,127.49 L436.74,127.50 L437.18,127.48 L437.62,127.47 L438.06,127.48 L438.50,127.49 L438.94,127.50 L439.38,127.51 L439.82,127.51 L440.27,127.51 L440.71,127.51 L441.15,127.52 L441.59,127.53 L442.03,127.53 L442.47,127.52 L442.91,127.51 L443.36,127.50 L443.80,127.50 L444.24,127.50 L444.68,127.49 L445.12,127.49 L445.56,127.49 L446.00,127.48 L446.44,127.47 L446.89,127.48 L447.33,127.48 L447.77,127.48 L448.21,127.49 L448.65,127.49 L449.09,127.49 L449.53,127.51 L449.97,127.52 L450.42,127.53 L450.86,127.54 L451.30,127.54 L451.74,127.55 L452.18,127.55 L452.62,127.56 L453.06,127.55 L453.51,127.55 L453.95,127.54 L454.39,127.53 L454.83,127.54 L455.27,127.53 L455.71,127.53 L456.15,127.52 L456.59,127.52 L457.04,127.52 L457.48,127.50 L457.92,127.51 L458.36,127.51 L458.80,127.51 L459.24,127.51 L459.68,127.51 L460.13,127.51 L460.57,127.50 L461.01,127.51 L461.45,127.53 L461.89,127.52 L462.33,127.52 L462.77,127.52 L463.21,127.51 L463.66,127.52 L464.10,127.51 L464.54,127.51 L464.98,127.50 L465.42,127.49 L465.86,127.50 L466.30,127.50 L466.74,127.50 L467.19,127.50 L467.63,127.49 L468.07,127.48 L468.51,127.50 L468.95,127.51 L469.39,127.50 L469.83,127.49 L470.28,127.48 L470.72,127.47 L471.16,127.47 L471.60,127.47 L472.04,127.48 L472.48,127.48 L472.92,127.47 L473.36,127.49 L473.81,127.50 L474.25,127.51 L474.69,127.52 L475.13,127.52 L475.57,127.52 L476.01,127.52 L476.45,127.51 L476.89,127.50 L477.34,127.48 L477.78,127.48 L478.22,127.48 L478.66,127.48 L479.10,127.49 L479.54,127.50 L479.98,127.50 L480.43,127.50 L480.87,127.50 L481.31,127.51 L481.75,127.50 L482.19,127.49 L482.63,127.50 L483.07,127.49 L483.51,127.48 L483.96,127.47 L484.40,127.48 L484.84,127.48 L485.28,127.49 L485.72,127.48 L486.16,127.49 L486.60,127.48 L487.05,127.47 L487.49,127.48 L487.93,127.48 L488.37,127.47 L488.81,127.45 L489.25,127.43 L489.69,127.41 L490.13,127.35 L490.58,127.25 L491.02,127.09 L491.46,126.85 L491.90,126.46 L492.34,125.85 L492.78,124.92 L493.22,123.48 L493.66,121.34 L494.11,118.22 L494.55,113.87 L494.99,108.02 L495.43,100.57 L495.87,91.68 L496.31,81.78 L496.75,71.65 L497.20,62.31 L497.64,54.92 L498.08,50.46 L498.52,49.60 L498.96,52.46 L499.40,58.62 L499.84,67.20 L500.28,77.11 L500.73,87.24 L501.17,96.68 L501.61,104.82 L502.05,111.40 L502.49,116.42 L502.93,120.07 L503.37,122.61 L503.82,124.33 L504.26,125.45 L504.70,126.16 L505.14,126.59 L505.58,126.84 L506.02,126.94 L506.46,126.94 L506.90,126.87 L507.35,126.79 L507.79,126.69 L508.23,126.66 L508.67,126.68 L509.11,126.76 L509.55,126.89 L509.99,127.03 L510.43,127.17 L510.88,127.29 L511.32,127.37 L511.76,127.44 L512.20,127.46" fill="none" stroke="#3f5f9c" stroke-width="1.15" stroke-linejoin="round" stroke-linecap="round"/>
<path d="M397.90,127.51 L398.34,127.50 L398.78,127.52 L399.22,127.51 L399.67,127.52 L400.11,127.50 L400.55,127.50 L400.99,127.52 L401.43,127.53 L401.87,127.54 L402.31,127.54 L402.75,127.53 L403.20,127.53 L403.64,127.53 L404.08,127.55 L404.52,127.53 L404.96,127.53 L405.40,127.51 L405.84,127.51 L406.28,127.50 L406.73,127.52 L407.17,127.51 L407.61,127.50 L408.05,127.49 L408.49,127.49 L408.93,127.48 L409.37,127.49 L409.82,127.50 L410.26,127.49 L410.70,127.49 L411.14,127.50 L411.58,127.49 L412.02,127.49 L412.46,127.50 L412.90,127.49 L413.35,127.48 L413.79,127.48 L414.23,127.48 L414.67,127.49 L415.11,127.47 L415.55,127.49 L415.99,127.49 L416.44,127.49 L416.88,127.49 L417.32,127.47 L417.76,127.47 L418.20,127.49 L418.64,127.49 L419.08,127.50 L419.52,127.48 L419.97,127.50 L420.41,127.50 L420.85,127.51 L421.29,127.51 L421.73,127.52 L422.17,127.52 L422.61,127.52 L423.05,127.53 L423.50,127.53 L423.94,127.52 L424.38,127.54 L424.82,127.53 L425.26,127.52 L425.70,127.53 L426.14,127.52 L426.59,127.52 L427.03,127.51 L427.47,127.49 L427.91,127.50 L428.35,127.48 L428.79,127.50 L429.23,127.52 L429.67,127.51 L430.12,127.51 L430.56,127.51 L431.00,127.51 L431.44,127.53 L431.88,127.53 L432.32,127.54 L432.76,127.53 L433.21,127.52 L433.65,127.53 L434.09,127.54 L434.53,127.54 L434.97,127.55 L435.41,127.54 L435.85,127.54 L436.29,127.53 L436.74,127.53 L437.18,127.53 L437.62,127.51 L438.06,127.51 L438.50,127.51 L438.94,127.51 L439.38,127.51 L439.82,127.51 L440.27,127.51 L440.71,127.51 L441.15,127.51 L441.59,127.53 L442.03,127.51 L442.47,127.51 L442.91,127.49 L443.36,127.50 L443.80,127.49 L444.24,127.49 L444.68,127.47 L445.12,127.48 L445.56,127.47 L446.00,127.47 L446.44,127.46 L446.89,127.49 L447.33,127.47 L447.77,127.48 L448.21,127.49 L448.65,127.51 L449.09,127.53 L449.53,127.52 L449.97,127.53 L450.42,127.54 L450.86,127.53 L451.30,127.53 L451.74,127.52 L452.18,127.52 L452.62,127.51 L453.06,127.51 L453.51,127.52 L453.95,127.52 L454.39,127.51 L454.83,127.52 L455.27,127.52 L455.71,127.52 L456.15,127.52 L456.59,127.53 L457.04,127.53 L457.48,127.52 L457.92,127.53 L458.36,127.51 L458.80,127.50 L459.24,127.50 L459.68,127.50 L460.13,127.51 L460.57,127.51 L461.01,127.50 L461.45,127.49 L461.89,127.48 L462.33,127.50 L462.77,127.51 L463.21,127.50 L463.66,127.50 L464.10,127.48 L464.54,127.46 L464.98,127.46 L465.42,127.48 L465.86,127.48 L466.30,127.45 L466.74,127.46 L467.19,127.46 L467.63,127.46 L468.07,127.47 L468.51,127.48 L468.95,127.46 L469.39,127.44 L469.83,127.45 L470.28,127.45 L470.72,127.46 L471.16,127.47 L471.60,127.47 L472.04,127.46 L472.48,127.47 L472.92,127.49 L473.36,127.49 L473.81,127.48 L474.25,127.48 L474.69,127.46 L475.13,127.45 L475.57,127.46 L476.01,127.46 L476.45,127.46 L476.89,127.46 L477.34,127.46 L477.78,127.47 L478.22,127.47 L478.66,127.48 L479.10,127.50 L479.54,127.50 L479.98,127.51 L480.43,127.51 L480.87,127.52 L481.31,127.51 L481.75,127.52 L482.19,127.53 L482.63,127.52 L483.07,127.51 L483.51,127.52 L483.96,127.50 L484.40,127.50 L484.84,127.50 L485.28,127.49 L485.72,127.48 L486.16,127.47 L486.60,127.48 L487.05,127.47 L487.49,127.46 L487.93,127.46 L488.37,127.45 L488.81,127.43 L489.25,127.41 L489.69,127.38 L490.13,127.32 L490.58,127.21 L491.02,127.05 L491.46,126.79 L491.90,126.40 L492.34,125.80 L492.78,124.86 L493.22,123.43 L493.66,121.28 L494.11,118.16 L494.55,113.76 L494.99,107.88 L495.43,100.39 L495.87,91.47 L496.31,81.49 L496.75,71.29 L497.20,61.90 L497.64,54.46 L498.08,50.00 L498.52,49.13 L498.96,52.00 L499.40,58.19 L499.84,66.81 L500.28,76.77 L500.73,86.96 L501.17,96.45 L501.61,104.63 L502.05,111.24 L502.49,116.31 L502.93,120.00 L503.37,122.57 L503.82,124.30 L504.26,125.45 L504.70,126.18 L505.14,126.62 L505.58,126.87 L506.02,126.96 L506.46,126.94 L506.90,126.85 L507.35,126.72 L507.79,126.63 L508.23,126.57 L508.67,126.61 L509.11,126.70 L509.55,126.83 L509.99,127.00 L510.43,127.17 L510.88,127.30 L511.32,127.40 L511.76,127.44 L512.20,127.47" fill="none" stroke="#562878" stroke-width="1.15" stroke-linejoin="round" stroke-linecap="round"/>
</g>
<rect x="397.3" y="39.8" width="115.50" height="91.50" fill="none" stroke="#000" stroke-width="1.1"/>
<line x1="394.10" y1="52.30" x2="397.30" y2="52.30" stroke="#333" stroke-width="0.9" />
<text x="390.90" y="55.15" font-size="8" text-anchor="end" font-weight="normal" fill="#1a1a1a" stroke="#1a1a1a" stroke-width="0.18" >80,000</text>
<line x1="394.10" y1="71.10" x2="397.30" y2="71.10" stroke="#333" stroke-width="0.9" />
<text x="390.90" y="73.95" font-size="8" text-anchor="end" font-weight="normal" fill="#1a1a1a" stroke="#1a1a1a" stroke-width="0.18" >60,000</text>
<line x1="394.10" y1="89.90" x2="397.30" y2="89.90" stroke="#333" stroke-width="0.9" />
<text x="390.90" y="92.75" font-size="8" text-anchor="end" font-weight="normal" fill="#1a1a1a" stroke="#1a1a1a" stroke-width="0.18" >40,000</text>
<line x1="394.10" y1="108.70" x2="397.30" y2="108.70" stroke="#333" stroke-width="0.9" />
<text x="390.90" y="111.55" font-size="8" text-anchor="end" font-weight="normal" fill="#1a1a1a" stroke="#1a1a1a" stroke-width="0.18" >20,000</text>
<line x1="394.10" y1="127.50" x2="397.30" y2="127.50" stroke="#333" stroke-width="0.9" />
<text x="390.90" y="130.35" font-size="8" text-anchor="end" font-weight="normal" fill="#1a1a1a" stroke="#1a1a1a" stroke-width="0.18" >0</text>
<line x1="397.90" y1="131.30" x2="397.90" y2="134.30" stroke="#333" stroke-width="0.9" />
<text x="398.20" y="145.10" font-size="8" text-anchor="middle" font-weight="normal" fill="#1a1a1a" stroke="#1a1a1a" stroke-width="0.18" >12</text>
<line x1="473.30" y1="131.30" x2="473.30" y2="134.30" stroke="#333" stroke-width="0.9" />
<text x="473.30" y="145.10" font-size="8" text-anchor="middle" font-weight="normal" fill="#1a1a1a" stroke="#1a1a1a" stroke-width="0.18" >40</text>
<text x="454.60" y="158.30" font-size="8" text-anchor="middle" font-weight="normal" fill="#1a1a1a" stroke="#1a1a1a" stroke-width="0.18" >MW</text>
<line x1="402.30" y1="44.70" x2="422.20" y2="44.70" stroke="#562878" stroke-width="1.25" />
<text x="425.60" y="47.20" font-size="8.0" text-anchor="start" font-weight="normal" fill="#1a1a1a" stroke="#1a1a1a" stroke-width="0.18" >Control</text>
<line x1="402.30" y1="54.85" x2="422.20" y2="54.85" stroke="#3f5f9c" stroke-width="1.7" />
<text x="425.60" y="57.35" font-size="8.0" text-anchor="start" font-weight="normal" fill="#1a1a1a" stroke="#1a1a1a" stroke-width="0.18" >CKO</text>
<line x1="402.30" y1="65.00" x2="422.20" y2="65.00" stroke="#6db444" stroke-width="1.6" />
<text x="425.60" y="67.50" font-size="8.0" text-anchor="start" font-weight="normal" fill="#1a1a1a" stroke="#1a1a1a" stroke-width="0.18" >DKO</text>
<line x1="402.30" y1="75.15" x2="422.20" y2="75.15" stroke="#ad0c35" stroke-width="1.35" />
<text x="425.60" y="77.65" font-size="8.0" text-anchor="start" font-weight="normal" fill="#1a1a1a" stroke="#1a1a1a" stroke-width="0.18" >TKO</text>
<text x="476.00" y="53.00" font-size="7.6" text-anchor="start" font-weight="normal" fill="#1a1a1a" stroke="#1a1a1a" stroke-width="0.18" >Csk</text>
<rect x="76.80" y="236.43" width="18.20" height="91.47" fill="#50276b" />
<rect x="104.20" y="244.68" width="17.80" height="83.22" fill="#2c4a7e" />
<rect x="131.10" y="322.47" width="18.30" height="5.43" fill="#69a93c" />
<rect x="158.00" y="327.03" width="18.30" height="0.87" fill="#a2002d" />
<line x1="72.35" y1="216.70" x2="72.35" y2="328.50" stroke="#262626" stroke-width="1.0" />
<line x1="71.85" y1="328.25" x2="182.00" y2="328.25" stroke="#1c1c1c" stroke-width="1.3" />
<line x1="68.80" y1="219.40" x2="72.50" y2="219.40" stroke="#2a2a2a" stroke-width="0.95" />
<text x="66.40" y="222.35" font-size="8.3" text-anchor="end" font-weight="normal" fill="#1a1a1a" stroke="#1a1a1a" stroke-width="0.18" >1000000</text>
<line x1="68.80" y1="246.52" x2="72.50" y2="246.52" stroke="#2a2a2a" stroke-width="0.95" />
<text x="66.40" y="249.47" font-size="8.3" text-anchor="end" font-weight="normal" fill="#1a1a1a" stroke="#1a1a1a" stroke-width="0.18" >750000</text>
<line x1="68.80" y1="273.65" x2="72.50" y2="273.65" stroke="#2a2a2a" stroke-width="0.95" />
<text x="66.40" y="276.60" font-size="8.3" text-anchor="end" font-weight="normal" fill="#1a1a1a" stroke="#1a1a1a" stroke-width="0.18" >500000</text>
<line x1="68.80" y1="300.77" x2="72.50" y2="300.77" stroke="#2a2a2a" stroke-width="0.95" />
<text x="66.40" y="303.72" font-size="8.3" text-anchor="end" font-weight="normal" fill="#1a1a1a" stroke="#1a1a1a" stroke-width="0.18" >250000</text>
<line x1="68.80" y1="327.90" x2="72.50" y2="327.90" stroke="#2a2a2a" stroke-width="0.95" />
<text x="66.40" y="330.85" font-size="8.3" text-anchor="end" font-weight="normal" fill="#1a1a1a" stroke="#1a1a1a" stroke-width="0.18" >0</text>
<line x1="85.90" y1="327.90" x2="85.90" y2="331.55" stroke="#2a2a2a" stroke-width="0.95" />
<text x="85.20" y="341.30" font-size="8.5" text-anchor="middle" font-weight="normal" fill="#1a1a1a" stroke="#1a1a1a" stroke-width="0.18" letter-spacing="0.05">Control</text>
<line x1="113.10" y1="327.90" x2="113.10" y2="331.55" stroke="#2a2a2a" stroke-width="0.95" />
<text x="113.00" y="341.30" font-size="8.5" text-anchor="middle" font-weight="normal" fill="#1a1a1a" stroke="#1a1a1a" stroke-width="0.18" letter-spacing="0.05">CKO</text>
<line x1="140.25" y1="327.90" x2="140.25" y2="331.55" stroke="#2a2a2a" stroke-width="0.95" />
<text x="140.40" y="341.30" font-size="8.5" text-anchor="middle" font-weight="normal" fill="#1a1a1a" stroke="#1a1a1a" stroke-width="0.18" letter-spacing="0.05">DKO</text>
<line x1="167.15" y1="327.90" x2="167.15" y2="331.55" stroke="#2a2a2a" stroke-width="0.95" />
<text x="167.50" y="341.30" font-size="8.5" text-anchor="middle" font-weight="normal" fill="#1a1a1a" stroke="#1a1a1a" stroke-width="0.18" letter-spacing="0.05">TKO</text>
<text transform="translate(27.50,272.50) rotate(-90)" x="0" y="0" font-size="9.8" text-anchor="middle" fill="#1a1a1a" stroke="#1a1a1a" stroke-width="0.15" textLength="47" lengthAdjust="spacingAndGlyphs" style="font-variant-ligatures:none">Csk peak area</text>
<line x1="85.60" y1="226.40" x2="85.60" y2="236.20" stroke="#222" stroke-width="0.9" />
<line x1="81.00" y1="226.40" x2="90.20" y2="226.40" stroke="#222" stroke-width="0.9" />
<line x1="113.10" y1="241.10" x2="113.10" y2="244.50" stroke="#222" stroke-width="0.9" />
<line x1="108.70" y1="241.10" x2="117.50" y2="241.10" stroke="#222" stroke-width="0.9" />
<circle cx="83.30" cy="224.10" r="2.55" fill="#fff" stroke="#111" stroke-width="0.95"/>
<circle cx="87.80" cy="223.00" r="2.55" fill="#fff" stroke="#111" stroke-width="0.95"/>
<circle cx="79.90" cy="238.30" r="2.55" fill="#fff" stroke="#111" stroke-width="0.95"/>
<circle cx="83.90" cy="242.00" r="2.55" fill="#fff" stroke="#111" stroke-width="0.95"/>
<circle cx="87.80" cy="243.90" r="2.55" fill="#fff" stroke="#111" stroke-width="0.95"/>
<circle cx="91.50" cy="245.10" r="2.55" fill="#fff" stroke="#111" stroke-width="0.95"/>
<circle cx="107.40" cy="241.00" r="2.55" fill="#fff" stroke="#111" stroke-width="0.95"/>
<circle cx="113.00" cy="238.60" r="2.55" fill="#fff" stroke="#111" stroke-width="0.95"/>
<circle cx="109.90" cy="245.10" r="2.55" fill="#fff" stroke="#111" stroke-width="0.95"/>
<circle cx="112.60" cy="245.80" r="2.55" fill="#fff" stroke="#111" stroke-width="0.95"/>
<circle cx="115.90" cy="246.40" r="2.55" fill="#fff" stroke="#111" stroke-width="0.95"/>
<circle cx="118.60" cy="248.30" r="2.55" fill="#fff" stroke="#111" stroke-width="0.95"/>
<circle cx="134.10" cy="319.80" r="2.55" fill="#fff" stroke="#111" stroke-width="0.95"/>
<circle cx="141.30" cy="318.80" r="2.55" fill="#fff" stroke="#111" stroke-width="0.95"/>
<circle cx="136.50" cy="322.80" r="2.55" fill="#fff" stroke="#111" stroke-width="0.95"/>
<circle cx="139.00" cy="323.10" r="2.55" fill="#fff" stroke="#111" stroke-width="0.95"/>
<circle cx="143.10" cy="324.00" r="2.55" fill="#fff" stroke="#111" stroke-width="0.95"/>
<circle cx="145.60" cy="324.40" r="2.55" fill="#fff" stroke="#111" stroke-width="0.95"/>
<circle cx="161.90" cy="327.20" r="2.55" fill="#fff" stroke="#111" stroke-width="0.95"/>
<circle cx="166.50" cy="326.90" r="2.55" fill="#fff" stroke="#111" stroke-width="0.95"/>
<circle cx="168.80" cy="324.60" r="2.55" fill="#fff" stroke="#111" stroke-width="0.95"/>
<circle cx="170.60" cy="326.90" r="2.55" fill="#fff" stroke="#111" stroke-width="0.95"/>
<circle cx="173.50" cy="327.60" r="2.55" fill="#fff" stroke="#111" stroke-width="0.95"/>
<circle cx="166.00" cy="328.00" r="2.55" fill="#fff" stroke="#111" stroke-width="0.95"/>
<text x="140.40" y="316.60" font-size="8.7" text-anchor="middle" fill="#000" stroke="#000" stroke-width="0.12">***</text>
<text x="167.50" y="321.80" font-size="8.7" text-anchor="middle" fill="#000" stroke="#000" stroke-width="0.12">***</text>
<rect x="307.70" y="304.32" width="17.70" height="23.78" fill="#50276b" />
<rect x="335.00" y="305.57" width="18.00" height="22.53" fill="#2c4a7e" />
<rect x="362.10" y="263.30" width="17.90" height="64.80" fill="#69a93c" />
<rect x="389.40" y="325.86" width="17.50" height="2.24" fill="#a2002d" />
<line x1="302.85" y1="217.20" x2="302.85" y2="328.70" stroke="#262626" stroke-width="1.0" />
<line x1="302.35" y1="328.40" x2="412.50" y2="328.40" stroke="#1c1c1c" stroke-width="1.3" />
<line x1="300.00" y1="219.32" x2="303.00" y2="219.32" stroke="#2a2a2a" stroke-width="0.95" />
<text x="296.90" y="222.27" font-size="8.3" text-anchor="end" font-weight="normal" fill="#1a1a1a" stroke="#1a1a1a" stroke-width="0.18" >3500</text>
<line x1="300.00" y1="234.86" x2="303.00" y2="234.86" stroke="#2a2a2a" stroke-width="0.95" />
<text x="296.90" y="237.81" font-size="8.3" text-anchor="end" font-weight="normal" fill="#1a1a1a" stroke="#1a1a1a" stroke-width="0.18" >3000</text>
<line x1="300.00" y1="250.40" x2="303.00" y2="250.40" stroke="#2a2a2a" stroke-width="0.95" />
<text x="296.90" y="253.35" font-size="8.3" text-anchor="end" font-weight="normal" fill="#1a1a1a" stroke="#1a1a1a" stroke-width="0.18" >2500</text>
<line x1="300.00" y1="265.94" x2="303.00" y2="265.94" stroke="#2a2a2a" stroke-width="0.95" />
<text x="296.90" y="268.89" font-size="8.3" text-anchor="end" font-weight="normal" fill="#1a1a1a" stroke="#1a1a1a" stroke-width="0.18" >2000</text>
<line x1="300.00" y1="281.48" x2="303.00" y2="281.48" stroke="#2a2a2a" stroke-width="0.95" />
<text x="296.90" y="284.43" font-size="8.3" text-anchor="end" font-weight="normal" fill="#1a1a1a" stroke="#1a1a1a" stroke-width="0.18" >1500</text>
<line x1="300.00" y1="297.02" x2="303.00" y2="297.02" stroke="#2a2a2a" stroke-width="0.95" />
<text x="296.90" y="299.97" font-size="8.3" text-anchor="end" font-weight="normal" fill="#1a1a1a" stroke="#1a1a1a" stroke-width="0.18" >1000</text>
<line x1="300.00" y1="312.56" x2="303.00" y2="312.56" stroke="#2a2a2a" stroke-width="0.95" />
<text x="296.90" y="315.51" font-size="8.3" text-anchor="end" font-weight="normal" fill="#1a1a1a" stroke="#1a1a1a" stroke-width="0.18" >500</text>
<line x1="300.00" y1="328.10" x2="303.00" y2="328.10" stroke="#2a2a2a" stroke-width="0.95" />
<text x="296.90" y="331.05" font-size="8.3" text-anchor="end" font-weight="normal" fill="#1a1a1a" stroke="#1a1a1a" stroke-width="0.18" >0</text>
<line x1="316.55" y1="328.10" x2="316.55" y2="331.70" stroke="#2a2a2a" stroke-width="0.95" />
<text x="316.30" y="341.40" font-size="8.5" text-anchor="middle" font-weight="normal" fill="#1a1a1a" stroke="#1a1a1a" stroke-width="0.18" letter-spacing="0.05">Control</text>
<line x1="344.00" y1="328.10" x2="344.00" y2="331.70" stroke="#2a2a2a" stroke-width="0.95" />
<text x="344.00" y="341.40" font-size="8.5" text-anchor="middle" font-weight="normal" fill="#1a1a1a" stroke="#1a1a1a" stroke-width="0.18" letter-spacing="0.05">CKO</text>
<line x1="371.05" y1="328.10" x2="371.05" y2="331.70" stroke="#2a2a2a" stroke-width="0.95" />
<text x="371.00" y="341.40" font-size="8.5" text-anchor="middle" font-weight="normal" fill="#1a1a1a" stroke="#1a1a1a" stroke-width="0.18" letter-spacing="0.05">DKO</text>
<line x1="398.15" y1="328.10" x2="398.15" y2="331.70" stroke="#2a2a2a" stroke-width="0.95" />
<text x="398.50" y="341.40" font-size="8.5" text-anchor="middle" font-weight="normal" fill="#1a1a1a" stroke="#1a1a1a" stroke-width="0.18" letter-spacing="0.05">TKO</text>
<text transform="translate(272.70,272.30) rotate(-90)" x="0" y="0" font-size="9.8" text-anchor="middle" fill="#1a1a1a" stroke="#1a1a1a" stroke-width="0.15" textLength="36" lengthAdjust="spacingAndGlyphs" style="font-variant-ligatures:none">PTPRJ MFI</text>
<line x1="371.20" y1="243.80" x2="371.20" y2="263.30" stroke="#222" stroke-width="0.9" />
<line x1="366.50" y1="243.80" x2="375.90" y2="243.80" stroke="#222" stroke-width="0.9" />
<circle cx="371.20" cy="231.30" r="2.55" fill="#fff" stroke="#111" stroke-width="0.95"/>
<circle cx="371.20" cy="249.00" r="2.55" fill="#fff" stroke="#111" stroke-width="0.95"/>
<circle cx="366.30" cy="266.80" r="2.55" fill="#fff" stroke="#111" stroke-width="0.95"/>
<circle cx="375.80" cy="272.00" r="2.55" fill="#fff" stroke="#111" stroke-width="0.95"/>
<circle cx="366.30" cy="275.80" r="2.55" fill="#fff" stroke="#111" stroke-width="0.95"/>
<circle cx="375.80" cy="284.30" r="2.55" fill="#fff" stroke="#111" stroke-width="0.95"/>
<circle cx="310.80" cy="302.50" r="2.55" fill="#fff" stroke="#111" stroke-width="0.95"/>
<circle cx="314.30" cy="303.30" r="2.55" fill="#fff" stroke="#111" stroke-width="0.95"/>
<circle cx="317.50" cy="301.30" r="2.55" fill="#fff" stroke="#111" stroke-width="0.95"/>
<circle cx="319.30" cy="303.80" r="2.55" fill="#fff" stroke="#111" stroke-width="0.95"/>
<circle cx="321.30" cy="305.50" r="2.55" fill="#fff" stroke="#111" stroke-width="0.95"/>
<circle cx="323.00" cy="307.00" r="2.55" fill="#fff" stroke="#111" stroke-width="0.95"/>
<circle cx="338.30" cy="304.30" r="2.55" fill="#fff" stroke="#111" stroke-width="0.95"/>
<circle cx="341.30" cy="304.50" r="2.55" fill="#fff" stroke="#111" stroke-width="0.95"/>
<circle cx="343.20" cy="304.90" r="2.55" fill="#fff" stroke="#111" stroke-width="0.95"/>
<circle cx="345.00" cy="303.30" r="2.55" fill="#fff" stroke="#111" stroke-width="0.95"/>
<circle cx="347.00" cy="305.80" r="2.55" fill="#fff" stroke="#111" stroke-width="0.95"/>
<circle cx="350.00" cy="307.00" r="2.55" fill="#fff" stroke="#111" stroke-width="0.95"/>
<circle cx="392.50" cy="323.80" r="2.55" fill="#fff" stroke="#111" stroke-width="0.95"/>
<circle cx="394.60" cy="325.60" r="2.55" fill="#fff" stroke="#111" stroke-width="0.95"/>
<circle cx="397.50" cy="324.40" r="2.55" fill="#fff" stroke="#111" stroke-width="0.95"/>
<circle cx="399.40" cy="323.80" r="2.55" fill="#fff" stroke="#111" stroke-width="0.95"/>
<circle cx="401.30" cy="325.60" r="2.55" fill="#fff" stroke="#111" stroke-width="0.95"/>
<circle cx="403.80" cy="326.90" r="2.55" fill="#fff" stroke="#111" stroke-width="0.95"/>
<line x1="361.00" y1="214.70" x2="409.80" y2="214.70" stroke="#333" stroke-width="0.95" />
<text x="385.40" y="215.20" font-size="8.7" text-anchor="middle" fill="#000" stroke="#000" stroke-width="0.12">***</text>
<text x="371.10" y="227.20" font-size="8.7" text-anchor="middle" fill="#000" stroke="#000" stroke-width="0.12">***</text>
<text x="398.50" y="322.90" font-size="8.7" text-anchor="middle" fill="#000" stroke="#000" stroke-width="0.12">**</text>
<rect x="79.20" y="419.99" width="27.20" height="74.11" fill="#50276b" />
<rect x="120.10" y="416.26" width="26.90" height="77.84" fill="#2c4a7e" />
<rect x="160.80" y="489.32" width="26.90" height="4.78" fill="#69a93c" />
<rect x="201.20" y="445.45" width="26.80" height="48.65" fill="#a2002d" />
<line x1="72.35" y1="383.40" x2="72.35" y2="494.70" stroke="#262626" stroke-width="1.0" />
<line x1="71.85" y1="494.40" x2="235.80" y2="494.40" stroke="#1c1c1c" stroke-width="1.3" />
<line x1="69.50" y1="385.50" x2="72.50" y2="385.50" stroke="#2a2a2a" stroke-width="0.95" />
<text x="66.10" y="388.45" font-size="8.3" text-anchor="end" font-weight="normal" fill="#1a1a1a" stroke="#1a1a1a" stroke-width="0.18" >1250</text>
<line x1="69.50" y1="407.22" x2="72.50" y2="407.22" stroke="#2a2a2a" stroke-width="0.95" />
<text x="66.10" y="410.17" font-size="8.3" text-anchor="end" font-weight="normal" fill="#1a1a1a" stroke="#1a1a1a" stroke-width="0.18" >1000</text>
<line x1="69.50" y1="428.94" x2="72.50" y2="428.94" stroke="#2a2a2a" stroke-width="0.95" />
<text x="66.10" y="431.89" font-size="8.3" text-anchor="end" font-weight="normal" fill="#1a1a1a" stroke="#1a1a1a" stroke-width="0.18" >750</text>
<line x1="69.50" y1="450.66" x2="72.50" y2="450.66" stroke="#2a2a2a" stroke-width="0.95" />
<text x="66.10" y="453.61" font-size="8.3" text-anchor="end" font-weight="normal" fill="#1a1a1a" stroke="#1a1a1a" stroke-width="0.18" >500</text>
<line x1="69.50" y1="472.38" x2="72.50" y2="472.38" stroke="#2a2a2a" stroke-width="0.95" />
<text x="66.10" y="475.33" font-size="8.3" text-anchor="end" font-weight="normal" fill="#1a1a1a" stroke="#1a1a1a" stroke-width="0.18" >250</text>
<line x1="69.50" y1="494.10" x2="72.50" y2="494.10" stroke="#2a2a2a" stroke-width="0.95" />
<text x="66.10" y="497.05" font-size="8.3" text-anchor="end" font-weight="normal" fill="#1a1a1a" stroke="#1a1a1a" stroke-width="0.18" >0</text>
<line x1="92.80" y1="494.10" x2="92.80" y2="497.70" stroke="#2a2a2a" stroke-width="0.95" />
<text x="92.60" y="508.00" font-size="8.5" text-anchor="middle" font-weight="normal" fill="#1a1a1a" stroke="#1a1a1a" stroke-width="0.18" letter-spacing="0.05">Control</text>
<line x1="133.55" y1="494.10" x2="133.55" y2="497.70" stroke="#2a2a2a" stroke-width="0.95" />
<text x="133.40" y="508.00" font-size="8.5" text-anchor="middle" font-weight="normal" fill="#1a1a1a" stroke="#1a1a1a" stroke-width="0.18" letter-spacing="0.05">CKO</text>
<line x1="174.25" y1="494.10" x2="174.25" y2="497.70" stroke="#2a2a2a" stroke-width="0.95" />
<text x="173.90" y="508.00" font-size="8.5" text-anchor="middle" font-weight="normal" fill="#1a1a1a" stroke="#1a1a1a" stroke-width="0.18" letter-spacing="0.05">DKO</text>
<line x1="214.60" y1="494.10" x2="214.60" y2="497.70" stroke="#2a2a2a" stroke-width="0.95" />
<text x="214.60" y="508.00" font-size="8.5" text-anchor="middle" font-weight="normal" fill="#1a1a1a" stroke="#1a1a1a" stroke-width="0.18" letter-spacing="0.05">TKO</text>
<text transform="translate(41.6,437.9) rotate(-90)" font-size="9.8" text-anchor="middle" fill="#1a1a1a" stroke="#1a1a1a" stroke-width="0.15" textLength="83.8" lengthAdjust="spacingAndGlyphs" style="font-variant-ligatures:none">Platelet count (x10<tspan font-size="6" dy="-3.4">6</tspan><tspan dy="3.4">/ml)</tspan></text>
<line x1="92.80" y1="413.20" x2="92.80" y2="420.00" stroke="#222" stroke-width="0.9" />
<line x1="88.20" y1="413.20" x2="97.40" y2="413.20" stroke="#222" stroke-width="0.9" />
<line x1="133.60" y1="410.00" x2="133.60" y2="416.20" stroke="#222" stroke-width="0.9" />
<line x1="129.00" y1="410.00" x2="138.20" y2="410.00" stroke="#222" stroke-width="0.9" />
<circle cx="85.00" cy="409.60" r="2.55" fill="#fff" stroke="#111" stroke-width="0.95"/>
<circle cx="100.40" cy="410.10" r="2.55" fill="#fff" stroke="#111" stroke-width="0.95"/>
<circle cx="87.30" cy="414.70" r="2.55" fill="#fff" stroke="#111" stroke-width="0.95"/>
<circle cx="90.40" cy="411.90" r="2.55" fill="#fff" stroke="#111" stroke-width="0.95"/>
<circle cx="94.70" cy="414.70" r="2.55" fill="#fff" stroke="#111" stroke-width="0.95"/>
<circle cx="98.10" cy="415.00" r="2.55" fill="#fff" stroke="#111" stroke-width="0.95"/>
<circle cx="82.40" cy="422.70" r="2.55" fill="#fff" stroke="#111" stroke-width="0.95"/>
<circle cx="102.70" cy="421.90" r="2.55" fill="#fff" stroke="#111" stroke-width="0.95"/>
<circle cx="82.40" cy="425.50" r="2.55" fill="#fff" stroke="#111" stroke-width="0.95"/>
<circle cx="87.30" cy="425.80" r="2.55" fill="#fff" stroke="#111" stroke-width="0.95"/>
<circle cx="92.70" cy="426.50" r="2.55" fill="#fff" stroke="#111" stroke-width="0.95"/>
<circle cx="97.80" cy="431.20" r="2.55" fill="#fff" stroke="#111" stroke-width="0.95"/>
<circle cx="102.70" cy="431.60" r="2.55" fill="#fff" stroke="#111" stroke-width="0.95"/>
<circle cx="127.30" cy="404.50" r="2.55" fill="#fff" stroke="#111" stroke-width="0.95"/>
<circle cx="139.30" cy="404.50" r="2.55" fill="#fff" stroke="#111" stroke-width="0.95"/>
<circle cx="131.60" cy="406.50" r="2.55" fill="#fff" stroke="#111" stroke-width="0.95"/>
<circle cx="135.80" cy="408.50" r="2.55" fill="#fff" stroke="#111" stroke-width="0.95"/>
<circle cx="127.30" cy="410.80" r="2.55" fill="#fff" stroke="#111" stroke-width="0.95"/>
<circle cx="131.20" cy="414.20" r="2.55" fill="#fff" stroke="#111" stroke-width="0.95"/>
<circle cx="139.60" cy="417.30" r="2.55" fill="#fff" stroke="#111" stroke-width="0.95"/>
<circle cx="135.30" cy="419.30" r="2.55" fill="#fff" stroke="#111" stroke-width="0.95"/>
<circle cx="123.20" cy="419.60" r="2.55" fill="#fff" stroke="#111" stroke-width="0.95"/>
<circle cx="127.30" cy="421.50" r="2.55" fill="#fff" stroke="#111" stroke-width="0.95"/>
<circle cx="131.20" cy="425.00" r="2.55" fill="#fff" stroke="#111" stroke-width="0.95"/>
<circle cx="139.30" cy="426.80" r="2.55" fill="#fff" stroke="#111" stroke-width="0.95"/>
<circle cx="143.50" cy="427.00" r="2.55" fill="#fff" stroke="#111" stroke-width="0.95"/>
<line x1="174.20" y1="486.40" x2="174.20" y2="489.30" stroke="#222" stroke-width="0.9" />
<line x1="169.80" y1="486.40" x2="178.60" y2="486.40" stroke="#222" stroke-width="0.9" />
<circle cx="168.10" cy="485.80" r="2.55" fill="#fff" stroke="#111" stroke-width="0.95"/>
<circle cx="172.20" cy="486.50" r="2.55" fill="#fff" stroke="#111" stroke-width="0.95"/>
<circle cx="176.20" cy="486.50" r="2.55" fill="#fff" stroke="#111" stroke-width="0.95"/>
<circle cx="181.50" cy="486.20" r="2.55" fill="#fff" stroke="#111" stroke-width="0.95"/>
<circle cx="169.60" cy="486.50" r="2.55" fill="#fff" stroke="#111" stroke-width="0.95"/>
<circle cx="170.40" cy="487.80" r="2.55" fill="#fff" stroke="#111" stroke-width="0.95"/>
<circle cx="174.20" cy="487.50" r="2.55" fill="#fff" stroke="#111" stroke-width="0.95"/>
<circle cx="178.10" cy="488.10" r="2.55" fill="#fff" stroke="#111" stroke-width="0.95"/>
<circle cx="163.90" cy="489.60" r="2.55" fill="#fff" stroke="#111" stroke-width="0.95"/>
<circle cx="183.00" cy="489.30" r="2.55" fill="#fff" stroke="#111" stroke-width="0.95"/>
<circle cx="166.50" cy="490.80" r="2.55" fill="#fff" stroke="#111" stroke-width="0.95"/>
<circle cx="179.60" cy="491.20" r="2.55" fill="#fff" stroke="#111" stroke-width="0.95"/>
<circle cx="184.50" cy="491.90" r="2.55" fill="#fff" stroke="#111" stroke-width="0.95"/>
<line x1="214.60" y1="441.00" x2="214.60" y2="445.40" stroke="#222" stroke-width="0.9" />
<line x1="210.00" y1="441.00" x2="219.20" y2="441.00" stroke="#222" stroke-width="0.9" />
<circle cx="207.50" cy="436.90" r="2.55" fill="#fff" stroke="#111" stroke-width="0.95"/>
<circle cx="221.90" cy="440.80" r="2.55" fill="#fff" stroke="#111" stroke-width="0.95"/>
<circle cx="214.50" cy="441.40" r="2.55" fill="#fff" stroke="#111" stroke-width="0.95"/>
<circle cx="218.80" cy="441.20" r="2.55" fill="#fff" stroke="#111" stroke-width="0.95"/>
<circle cx="211.30" cy="442.10" r="2.55" fill="#fff" stroke="#111" stroke-width="0.95"/>
<circle cx="217.10" cy="442.10" r="2.55" fill="#fff" stroke="#111" stroke-width="0.95"/>
<circle cx="204.60" cy="446.00" r="2.55" fill="#fff" stroke="#111" stroke-width="0.95"/>
<circle cx="213.30" cy="446.50" r="2.55" fill="#fff" stroke="#111" stroke-width="0.95"/>
<circle cx="221.90" cy="446.00" r="2.55" fill="#fff" stroke="#111" stroke-width="0.95"/>
<circle cx="207.50" cy="450.80" r="2.55" fill="#fff" stroke="#111" stroke-width="0.95"/>
<circle cx="210.80" cy="451.20" r="2.55" fill="#fff" stroke="#111" stroke-width="0.95"/>
<circle cx="219.00" cy="451.70" r="2.55" fill="#fff" stroke="#111" stroke-width="0.95"/>
<circle cx="224.80" cy="452.30" r="2.55" fill="#fff" stroke="#111" stroke-width="0.95"/>
<line x1="163.30" y1="418.50" x2="228.00" y2="418.50" stroke="#333" stroke-width="0.95" />
<text x="195.60" y="418.90" font-size="8.7" text-anchor="middle" fill="#000" stroke="#000" stroke-width="0.12">***</text>
<text x="214.60" y="433.90" font-size="8.7" text-anchor="middle" fill="#000" stroke="#000" stroke-width="0.12">***</text>
<text x="173.80" y="482.00" font-size="8.7" text-anchor="middle" fill="#000" stroke="#000" stroke-width="0.12">***</text>
<rect x="310.00" y="436.44" width="27.00" height="57.66" fill="#50276b" />
<rect x="350.80" y="439.26" width="26.70" height="54.84" fill="#2c4a7e" />
<rect x="391.30" y="407.60" width="27.00" height="86.50" fill="#69a93c" />
<rect x="432.00" y="423.05" width="27.20" height="71.05" fill="#a2002d" />
<line x1="303.05" y1="382.90" x2="303.05" y2="494.70" stroke="#262626" stroke-width="1.0" />
<line x1="302.55" y1="494.40" x2="466.80" y2="494.40" stroke="#1c1c1c" stroke-width="1.3" />
<line x1="300.40" y1="385.30" x2="303.20" y2="385.30" stroke="#2a2a2a" stroke-width="0.95" />
<text x="296.50" y="388.25" font-size="8.3" text-anchor="end" font-weight="normal" fill="#1a1a1a" stroke="#1a1a1a" stroke-width="0.18" >10</text>
<line x1="300.40" y1="407.06" x2="303.20" y2="407.06" stroke="#2a2a2a" stroke-width="0.95" />
<text x="296.50" y="410.01" font-size="8.3" text-anchor="end" font-weight="normal" fill="#1a1a1a" stroke="#1a1a1a" stroke-width="0.18" >8</text>
<line x1="300.40" y1="428.82" x2="303.20" y2="428.82" stroke="#2a2a2a" stroke-width="0.95" />
<text x="296.50" y="431.77" font-size="8.3" text-anchor="end" font-weight="normal" fill="#1a1a1a" stroke="#1a1a1a" stroke-width="0.18" >6</text>
<line x1="300.40" y1="450.58" x2="303.20" y2="450.58" stroke="#2a2a2a" stroke-width="0.95" />
<text x="296.50" y="453.53" font-size="8.3" text-anchor="end" font-weight="normal" fill="#1a1a1a" stroke="#1a1a1a" stroke-width="0.18" >4</text>
<line x1="300.40" y1="472.34" x2="303.20" y2="472.34" stroke="#2a2a2a" stroke-width="0.95" />
<text x="296.50" y="475.29" font-size="8.3" text-anchor="end" font-weight="normal" fill="#1a1a1a" stroke="#1a1a1a" stroke-width="0.18" >2</text>
<line x1="300.40" y1="494.10" x2="303.20" y2="494.10" stroke="#2a2a2a" stroke-width="0.95" />
<text x="296.50" y="497.05" font-size="8.3" text-anchor="end" font-weight="normal" fill="#1a1a1a" stroke="#1a1a1a" stroke-width="0.18" >0</text>
<line x1="323.50" y1="494.10" x2="323.50" y2="497.70" stroke="#2a2a2a" stroke-width="0.95" />
<text x="323.30" y="508.00" font-size="8.5" text-anchor="middle" font-weight="normal" fill="#1a1a1a" stroke="#1a1a1a" stroke-width="0.18" letter-spacing="0.05">Control</text>
<line x1="364.15" y1="494.10" x2="364.15" y2="497.70" stroke="#2a2a2a" stroke-width="0.95" />
<text x="364.30" y="508.00" font-size="8.5" text-anchor="middle" font-weight="normal" fill="#1a1a1a" stroke="#1a1a1a" stroke-width="0.18" letter-spacing="0.05">CKO</text>
<line x1="404.80" y1="494.10" x2="404.80" y2="497.70" stroke="#2a2a2a" stroke-width="0.95" />
<text x="405.00" y="508.00" font-size="8.5" text-anchor="middle" font-weight="normal" fill="#1a1a1a" stroke="#1a1a1a" stroke-width="0.18" letter-spacing="0.05">DKO</text>
<line x1="445.60" y1="494.10" x2="445.60" y2="497.70" stroke="#2a2a2a" stroke-width="0.95" />
<text x="445.80" y="508.00" font-size="8.5" text-anchor="middle" font-weight="normal" fill="#1a1a1a" stroke="#1a1a1a" stroke-width="0.18" letter-spacing="0.05">TKO</text>
<text transform="translate(281.80,437.70) rotate(-90)" x="0" y="0" font-size="9.8" text-anchor="middle" fill="#1a1a1a" stroke="#1a1a1a" stroke-width="0.15" textLength="66.7" lengthAdjust="spacingAndGlyphs" style="font-variant-ligatures:none">Platelet volume (fl)</text>
<circle cx="324.20" cy="430.80" r="2.55" fill="#fff" stroke="#111" stroke-width="0.95"/>
<circle cx="319.60" cy="432.30" r="2.55" fill="#fff" stroke="#111" stroke-width="0.95"/>
<circle cx="320.40" cy="435.40" r="2.55" fill="#fff" stroke="#111" stroke-width="0.95"/>
<circle cx="324.20" cy="435.40" r="2.55" fill="#fff" stroke="#111" stroke-width="0.95"/>
<circle cx="328.10" cy="435.40" r="2.55" fill="#fff" stroke="#111" stroke-width="0.95"/>
<circle cx="312.70" cy="437.70" r="2.55" fill="#fff" stroke="#111" stroke-width="0.95"/>
<circle cx="331.50" cy="437.20" r="2.55" fill="#fff" stroke="#111" stroke-width="0.95"/>
<circle cx="323.50" cy="438.50" r="2.55" fill="#fff" stroke="#111" stroke-width="0.95"/>
<circle cx="316.50" cy="439.20" r="2.55" fill="#fff" stroke="#111" stroke-width="0.95"/>
<circle cx="327.30" cy="439.20" r="2.55" fill="#fff" stroke="#111" stroke-width="0.95"/>
<circle cx="330.00" cy="439.70" r="2.55" fill="#fff" stroke="#111" stroke-width="0.95"/>
<circle cx="333.50" cy="440.80" r="2.55" fill="#fff" stroke="#111" stroke-width="0.95"/>
<circle cx="358.50" cy="434.20" r="2.55" fill="#fff" stroke="#111" stroke-width="0.95"/>
<circle cx="371.20" cy="434.90" r="2.55" fill="#fff" stroke="#111" stroke-width="0.95"/>
<circle cx="351.90" cy="440.00" r="2.55" fill="#fff" stroke="#111" stroke-width="0.95"/>
<circle cx="355.00" cy="440.00" r="2.55" fill="#fff" stroke="#111" stroke-width="0.95"/>
<circle cx="359.60" cy="439.20" r="2.55" fill="#fff" stroke="#111" stroke-width="0.95"/>
<circle cx="363.50" cy="440.00" r="2.55" fill="#fff" stroke="#111" stroke-width="0.95"/>
<circle cx="367.30" cy="439.20" r="2.55" fill="#fff" stroke="#111" stroke-width="0.95"/>
<circle cx="372.70" cy="440.00" r="2.55" fill="#fff" stroke="#111" stroke-width="0.95"/>
<circle cx="375.50" cy="440.00" r="2.55" fill="#fff" stroke="#111" stroke-width="0.95"/>
<line x1="405.60" y1="403.00" x2="405.60" y2="407.60" stroke="#222" stroke-width="0.9" />
<line x1="398.20" y1="403.00" x2="413.00" y2="403.00" stroke="#222" stroke-width="0.9" />
<circle cx="397.30" cy="399.20" r="2.55" fill="#fff" stroke="#111" stroke-width="0.95"/>
<circle cx="400.40" cy="404.60" r="2.55" fill="#fff" stroke="#111" stroke-width="0.95"/>
<circle cx="405.00" cy="405.40" r="2.55" fill="#fff" stroke="#111" stroke-width="0.95"/>
<circle cx="408.80" cy="405.40" r="2.55" fill="#fff" stroke="#111" stroke-width="0.95"/>
<circle cx="412.70" cy="404.60" r="2.55" fill="#fff" stroke="#111" stroke-width="0.95"/>
<circle cx="394.20" cy="410.00" r="2.55" fill="#fff" stroke="#111" stroke-width="0.95"/>
<circle cx="397.30" cy="410.00" r="2.55" fill="#fff" stroke="#111" stroke-width="0.95"/>
<circle cx="404.20" cy="409.20" r="2.55" fill="#fff" stroke="#111" stroke-width="0.95"/>
<circle cx="412.70" cy="409.20" r="2.55" fill="#fff" stroke="#111" stroke-width="0.95"/>
<circle cx="400.40" cy="411.50" r="2.55" fill="#fff" stroke="#111" stroke-width="0.95"/>
<circle cx="408.80" cy="411.50" r="2.55" fill="#fff" stroke="#111" stroke-width="0.95"/>
<circle cx="415.50" cy="414.30" r="2.55" fill="#fff" stroke="#111" stroke-width="0.95"/>
<line x1="445.80" y1="418.20" x2="445.80" y2="423.00" stroke="#222" stroke-width="0.9" />
<line x1="439.10" y1="418.20" x2="452.50" y2="418.20" stroke="#222" stroke-width="0.9" />
<circle cx="445.80" cy="410.20" r="2.55" fill="#fff" stroke="#111" stroke-width="0.95"/>
<circle cx="445.80" cy="419.60" r="2.55" fill="#fff" stroke="#111" stroke-width="0.95"/>
<circle cx="444.20" cy="422.00" r="2.55" fill="#fff" stroke="#111" stroke-width="0.95"/>
<circle cx="435.00" cy="424.20" r="2.55" fill="#fff" stroke="#111" stroke-width="0.95"/>
<circle cx="441.20" cy="424.20" r="2.55" fill="#fff" stroke="#111" stroke-width="0.95"/>
<circle cx="446.50" cy="423.50" r="2.55" fill="#fff" stroke="#111" stroke-width="0.95"/>
<circle cx="449.60" cy="423.10" r="2.55" fill="#fff" stroke="#111" stroke-width="0.95"/>
<circle cx="454.20" cy="424.20" r="2.55" fill="#fff" stroke="#111" stroke-width="0.95"/>
<circle cx="438.80" cy="426.90" r="2.55" fill="#fff" stroke="#111" stroke-width="0.95"/>
<circle cx="451.90" cy="427.70" r="2.55" fill="#fff" stroke="#111" stroke-width="0.95"/>
<circle cx="455.80" cy="428.80" r="2.55" fill="#fff" stroke="#111" stroke-width="0.95"/>
<line x1="391.30" y1="382.00" x2="458.80" y2="382.00" stroke="#333" stroke-width="0.95" />
<text x="425.00" y="382.60" font-size="8.7" text-anchor="middle" fill="#000" stroke="#000" stroke-width="0.12">***</text>
<text x="405.00" y="397.60" font-size="8.7" text-anchor="middle" fill="#000" stroke="#000" stroke-width="0.12">***</text>
<text x="445.80" y="406.80" font-size="8.7" text-anchor="middle" fill="#000" stroke="#000" stroke-width="0.12">***</text>
<rect x="79.20" y="642.04" width="27.10" height="19.26" fill="#50276b" />
<rect x="120.00" y="642.53" width="27.00" height="18.77" fill="#2c4a7e" />
<rect x="160.80" y="593.03" width="27.20" height="68.27" fill="#69a93c" />
<rect x="201.80" y="618.87" width="27.00" height="42.43" fill="#a2002d" />
<line x1="72.25" y1="550.40" x2="72.25" y2="661.90" stroke="#262626" stroke-width="1.0" />
<line x1="71.75" y1="661.30" x2="236.30" y2="661.30" stroke="#1c1c1c" stroke-width="1.3" />
<line x1="69.60" y1="552.50" x2="72.40" y2="552.50" stroke="#2a2a2a" stroke-width="0.95" />
<text x="66.30" y="555.45" font-size="8.3" text-anchor="end" font-weight="normal" fill="#1a1a1a" stroke="#1a1a1a" stroke-width="0.18" >20</text>
<line x1="69.60" y1="579.70" x2="72.40" y2="579.70" stroke="#2a2a2a" stroke-width="0.95" />
<text x="66.30" y="582.65" font-size="8.3" text-anchor="end" font-weight="normal" fill="#1a1a1a" stroke="#1a1a1a" stroke-width="0.18" >15</text>
<line x1="69.60" y1="606.90" x2="72.40" y2="606.90" stroke="#2a2a2a" stroke-width="0.95" />
<text x="66.30" y="609.85" font-size="8.3" text-anchor="end" font-weight="normal" fill="#1a1a1a" stroke="#1a1a1a" stroke-width="0.18" >10</text>
<line x1="69.60" y1="634.10" x2="72.40" y2="634.10" stroke="#2a2a2a" stroke-width="0.95" />
<text x="66.30" y="637.05" font-size="8.3" text-anchor="end" font-weight="normal" fill="#1a1a1a" stroke="#1a1a1a" stroke-width="0.18" >5</text>
<line x1="69.60" y1="661.30" x2="72.40" y2="661.30" stroke="#2a2a2a" stroke-width="0.95" />
<text x="66.30" y="664.25" font-size="8.3" text-anchor="end" font-weight="normal" fill="#1a1a1a" stroke="#1a1a1a" stroke-width="0.18" >0</text>
<line x1="92.75" y1="661.30" x2="92.75" y2="664.60" stroke="#2a2a2a" stroke-width="0.95" />
<text x="92.60" y="675.00" font-size="8.5" text-anchor="middle" font-weight="normal" fill="#1a1a1a" stroke="#1a1a1a" stroke-width="0.18" letter-spacing="0.05">Control</text>
<line x1="133.50" y1="661.30" x2="133.50" y2="664.60" stroke="#2a2a2a" stroke-width="0.95" />
<text x="133.60" y="675.00" font-size="8.5" text-anchor="middle" font-weight="normal" fill="#1a1a1a" stroke="#1a1a1a" stroke-width="0.18" letter-spacing="0.05">CKO</text>
<line x1="174.40" y1="661.30" x2="174.40" y2="664.60" stroke="#2a2a2a" stroke-width="0.95" />
<text x="174.30" y="675.00" font-size="8.5" text-anchor="middle" font-weight="normal" fill="#1a1a1a" stroke="#1a1a1a" stroke-width="0.18" letter-spacing="0.05">DKO</text>
<line x1="215.30" y1="661.30" x2="215.30" y2="664.60" stroke="#2a2a2a" stroke-width="0.95" />
<text x="215.20" y="675.00" font-size="8.5" text-anchor="middle" font-weight="normal" fill="#1a1a1a" stroke="#1a1a1a" stroke-width="0.18" letter-spacing="0.05">TKO</text>
<text transform="translate(51.10,605.30) rotate(-90)" x="0" y="0" font-size="9.8" text-anchor="middle" fill="#1a1a1a" stroke="#1a1a1a" stroke-width="0.15" textLength="95.2" lengthAdjust="spacingAndGlyphs" style="font-variant-ligatures:none">Spleen/body weight (mg/g)</text>
<circle cx="93.50" cy="634.20" r="2.55" fill="#fff" stroke="#111" stroke-width="0.95"/>
<circle cx="89.60" cy="635.00" r="2.55" fill="#fff" stroke="#111" stroke-width="0.95"/>
<circle cx="96.50" cy="636.50" r="2.55" fill="#fff" stroke="#111" stroke-width="0.95"/>
<circle cx="88.50" cy="637.20" r="2.55" fill="#fff" stroke="#111" stroke-width="0.95"/>
<circle cx="90.40" cy="639.60" r="2.55" fill="#fff" stroke="#111" stroke-width="0.95"/>
<circle cx="94.20" cy="638.80" r="2.55" fill="#fff" stroke="#111" stroke-width="0.95"/>
<circle cx="95.80" cy="641.90" r="2.55" fill="#fff" stroke="#111" stroke-width="0.95"/>
<circle cx="99.60" cy="641.20" r="2.55" fill="#fff" stroke="#111" stroke-width="0.95"/>
<circle cx="101.20" cy="643.50" r="2.55" fill="#fff" stroke="#111" stroke-width="0.95"/>
<circle cx="81.90" cy="644.70" r="2.55" fill="#fff" stroke="#111" stroke-width="0.95"/>
<circle cx="84.20" cy="645.30" r="2.55" fill="#fff" stroke="#111" stroke-width="0.95"/>
<circle cx="87.30" cy="644.70" r="2.55" fill="#fff" stroke="#111" stroke-width="0.95"/>
<circle cx="98.10" cy="645.80" r="2.55" fill="#fff" stroke="#111" stroke-width="0.95"/>
<circle cx="102.70" cy="647.80" r="2.55" fill="#fff" stroke="#111" stroke-width="0.95"/>
<circle cx="133.50" cy="632.90" r="2.55" fill="#fff" stroke="#111" stroke-width="0.95"/>
<circle cx="131.90" cy="635.80" r="2.55" fill="#fff" stroke="#111" stroke-width="0.95"/>
<circle cx="136.50" cy="636.50" r="2.55" fill="#fff" stroke="#111" stroke-width="0.95"/>
<circle cx="128.80" cy="640.40" r="2.55" fill="#fff" stroke="#111" stroke-width="0.95"/>
<circle cx="134.20" cy="640.40" r="2.55" fill="#fff" stroke="#111" stroke-width="0.95"/>
<circle cx="138.10" cy="642.70" r="2.55" fill="#fff" stroke="#111" stroke-width="0.95"/>
<circle cx="141.90" cy="642.70" r="2.55" fill="#fff" stroke="#111" stroke-width="0.95"/>
<circle cx="131.20" cy="643.80" r="2.55" fill="#fff" stroke="#111" stroke-width="0.95"/>
<circle cx="129.60" cy="644.20" r="2.55" fill="#fff" stroke="#111" stroke-width="0.95"/>
<circle cx="123.50" cy="645.00" r="2.55" fill="#fff" stroke="#111" stroke-width="0.95"/>
<circle cx="126.50" cy="645.00" r="2.55" fill="#fff" stroke="#111" stroke-width="0.95"/>
<circle cx="139.60" cy="648.10" r="2.55" fill="#fff" stroke="#111" stroke-width="0.95"/>
<circle cx="143.50" cy="648.10" r="2.55" fill="#fff" stroke="#111" stroke-width="0.95"/>
<line x1="174.30" y1="579.30" x2="174.30" y2="593.00" stroke="#222" stroke-width="0.9" />
<line x1="168.10" y1="579.30" x2="180.50" y2="579.30" stroke="#222" stroke-width="0.9" />
<circle cx="174.30" cy="564.30" r="2.55" fill="#fff" stroke="#111" stroke-width="0.95"/>
<circle cx="174.30" cy="576.30" r="2.55" fill="#fff" stroke="#111" stroke-width="0.95"/>
<circle cx="176.80" cy="578.80" r="2.55" fill="#fff" stroke="#111" stroke-width="0.95"/>
<circle cx="171.80" cy="585.00" r="2.55" fill="#fff" stroke="#111" stroke-width="0.95"/>
<circle cx="164.30" cy="589.30" r="2.55" fill="#fff" stroke="#111" stroke-width="0.95"/>
<circle cx="169.30" cy="591.80" r="2.55" fill="#fff" stroke="#111" stroke-width="0.95"/>
<circle cx="174.30" cy="588.30" r="2.55" fill="#fff" stroke="#111" stroke-width="0.95"/>
<circle cx="179.30" cy="593.30" r="2.55" fill="#fff" stroke="#111" stroke-width="0.95"/>
<circle cx="184.50" cy="593.80" r="2.55" fill="#fff" stroke="#111" stroke-width="0.95"/>
<circle cx="182.00" cy="599.50" r="2.55" fill="#fff" stroke="#111" stroke-width="0.95"/>
<circle cx="166.30" cy="600.80" r="2.55" fill="#fff" stroke="#111" stroke-width="0.95"/>
<circle cx="171.80" cy="605.00" r="2.55" fill="#fff" stroke="#111" stroke-width="0.95"/>
<circle cx="177.00" cy="607.00" r="2.55" fill="#fff" stroke="#111" stroke-width="0.95"/>
<circle cx="171.80" cy="610.80" r="2.55" fill="#fff" stroke="#111" stroke-width="0.95"/>
<circle cx="177.00" cy="616.80" r="2.55" fill="#fff" stroke="#111" stroke-width="0.95"/>
<line x1="215.30" y1="608.00" x2="215.30" y2="618.80" stroke="#222" stroke-width="0.9" />
<line x1="208.70" y1="608.00" x2="221.90" y2="608.00" stroke="#222" stroke-width="0.9" />
<circle cx="216.80" cy="599.50" r="2.55" fill="#fff" stroke="#111" stroke-width="0.95"/>
<circle cx="213.30" cy="601.30" r="2.55" fill="#fff" stroke="#111" stroke-width="0.95"/>
<circle cx="216.80" cy="602.50" r="2.55" fill="#fff" stroke="#111" stroke-width="0.95"/>
<circle cx="213.30" cy="609.30" r="2.55" fill="#fff" stroke="#111" stroke-width="0.95"/>
<circle cx="210.00" cy="616.30" r="2.55" fill="#fff" stroke="#111" stroke-width="0.95"/>
<circle cx="213.30" cy="617.50" r="2.55" fill="#fff" stroke="#111" stroke-width="0.95"/>
<circle cx="217.50" cy="615.50" r="2.55" fill="#fff" stroke="#111" stroke-width="0.95"/>
<circle cx="220.00" cy="620.80" r="2.55" fill="#fff" stroke="#111" stroke-width="0.95"/>
<circle cx="221.80" cy="624.50" r="2.55" fill="#fff" stroke="#111" stroke-width="0.95"/>
<circle cx="205.00" cy="628.00" r="2.55" fill="#fff" stroke="#111" stroke-width="0.95"/>
<circle cx="208.80" cy="629.50" r="2.55" fill="#fff" stroke="#111" stroke-width="0.95"/>
<circle cx="211.80" cy="628.80" r="2.55" fill="#fff" stroke="#111" stroke-width="0.95"/>
<circle cx="218.80" cy="629.30" r="2.55" fill="#fff" stroke="#111" stroke-width="0.95"/>
<circle cx="223.30" cy="628.80" r="2.55" fill="#fff" stroke="#111" stroke-width="0.95"/>
<circle cx="225.80" cy="631.30" r="2.55" fill="#fff" stroke="#111" stroke-width="0.95"/>
<line x1="161.30" y1="547.50" x2="228.80" y2="547.50" stroke="#333" stroke-width="0.95" />
<text x="195.00" y="548.60" font-size="8.7" text-anchor="middle" fill="#000" stroke="#000" stroke-width="0.12">***</text>
<text x="174.30" y="561.10" font-size="8.7" text-anchor="middle" fill="#000" stroke="#000" stroke-width="0.12">***</text>
<text x="215.00" y="596.30" font-size="8.7" text-anchor="middle" fill="#000" stroke="#000" stroke-width="0.12">***</text>
<rect x="0" y="0" width="520" height="0.95" fill="#000"/><rect x="0" y="0" width="1.3" height="684" fill="#000"/><rect x="518.6" y="0" width="1.4" height="684" fill="#000"/><rect x="0" y="682.3" width="520" height="1.7" fill="#000"/>
</svg></body></html>
